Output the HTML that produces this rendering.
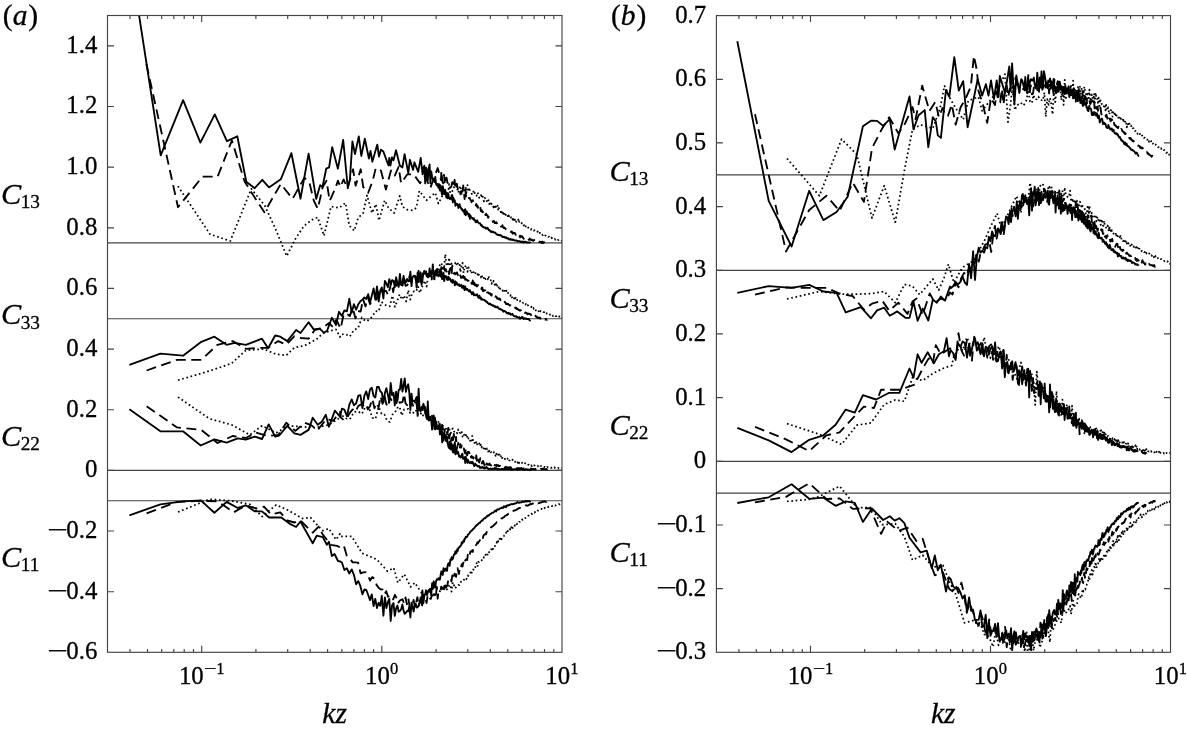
<!DOCTYPE html>
<html lang="en"><head><meta charset="utf-8"><title>Figure: C11, C22, C33, C13 versus kz</title>
<style>html,body{margin:0;padding:0;background:#fff;overflow:hidden;}svg{display:block;}text{font-family:'Liberation Serif', 'Times New Roman', Times, serif;fill:#000;stroke:#000;stroke-width:0.3px;stroke-linejoin:round;}.ax{stroke:#444444;stroke-width:1.15;fill:none;shape-rendering:auto;}.cv{stroke:#000;fill:none;stroke-linejoin:round;stroke-linecap:butt;}.tk{font-size:24.8px;}.sup{font-size:16.5px;}.lab{font-size:30.3px;font-style:italic;}.sub{font-size:19.3px;font-style:normal;}</style></head><body>
<svg width="1187" height="731" viewBox="0 0 1187 731">
<rect x="0" y="0" width="1187" height="731" fill="#fff"/>
<defs>
<clipPath id="clipa"><rect x="107.5" y="15.5" width="454.5" height="636.8"/></clipPath>
<clipPath id="clipb"><rect x="716.4" y="15.6" width="454.1" height="636.7"/></clipPath>
</defs>
<g clip-path="url(#clipa)">
<line class="ax" x1="107.5" y1="242.9" x2="562" y2="242.9"/>
<line class="ax" x1="107.5" y1="318.7" x2="562" y2="318.7"/>
<line class="ax" x1="107.5" y1="470.4" x2="562" y2="470.4"/>
<line class="ax" x1="107.5" y1="500.7" x2="562" y2="500.7"/>
<path class="cv" stroke-width="1.75" stroke-dasharray="1.65 2.7" d="M178 512 L209.4 499.2 L231.6 500.9 L249.9 504.3 L262 516.5 L276.2 504.9 L288.4 510.4 L302.5 518.5 L310.6 517.5 L317.7 525.6 L322.8 530.6 L328.9 528.6 L336 539.7 L340 533.7 L341 536.3 L351.6 536.3 L362.1 553.2 L376.9 559.5 L387.4 571.1 L393.7 567.9 L397.9 582.7 L404.2 574.2 L410.6 586.9 L414.8 582.7 L423.2 595.3 L429.5 589 L431.3 588.6 L432.8 589.3 L434.3 585.6 L435.8 590 L437.2 588.5 L438.6 590.6 L440 591.3 L441.4 586 L442.7 591 L444 589.3 L445.3 585.4 L446.6 589.5 L447.9 589 L449.1 585.6 L450.3 584.7 L451.5 591.7 L452.7 582.3 L453.8 584.5 L455 588.4 L456.1 586.9 L457.2 585.4 L458.3 584.8 L459.4 585.2 L460.4 583 L461.5 580.6 L462.5 581 L463.6 580 L464.6 579.4 L465.6 577.7 L466.5 579 L467.5 575.5 L468.5 575.9 L469.4 574.2 L470.4 572.4 L471.3 574.6 L472.2 570.1 L473.1 570.4 L474 568 L474.9 568.6 L475.8 565.5 L476.6 563.1 L477.5 566.7 L478.3 561.8 L479.2 562.1 L480 561.7 L480.8 560.1 L481.6 560.2 L482.4 560.8 L483.2 559 L484 557 L484.8 557.4 L485.5 554.7 L486.3 555.5 L487.1 556.5 L487.8 553.3 L488.6 554.1 L489.3 551.7 L490 552 L490.7 550.7 L491.5 549.3 L492.2 547.3 L492.9 549.1 L493.6 546.8 L494.3 545.8 L494.9 546.2 L495.6 544.2 L496.3 544.3 L496.9 541.9 L497.6 543.4 L498.3 540.8 L498.9 541.3 L499.6 538.8 L500.2 541 L500.8 537.1 L501.5 539.3 L502.1 537.1 L502.7 537 L503.3 536.3 L503.9 536.2 L504.5 534.7 L505.1 534.9 L505.7 534.5 L506.3 532.1 L506.9 533.3 L507.5 531.6 L508.1 530.6 L508.6 531.1 L509.2 530 L509.8 530.3 L510.3 528.6 L510.9 529.5 L511.4 527.1 L512 529.6 L512.5 528 L513.1 526.8 L513.6 527.5 L514.1 527.4 L514.7 525.8 L515.2 525.1 L515.7 525.5 L516.2 523.7 L516.8 524.2 L517.3 523.5 L517.8 523.7 L518.3 523.2 L518.8 523.4 L519.3 521.8 L519.8 521.9 L520.3 521.3 L520.8 521.2 L521.3 520.9 L521.7 521.1 L522.2 519.4 L522.7 519.9 L523.2 519.3 L523.7 519.3 L524.1 519.4 L524.6 518.6 L525.1 518 L525.5 518 L526 517.4 L526.4 516.8 L526.9 516.6 L527.3 516.5 L527.8 516.7 L528.2 515.9 L528.7 515.6 L529.1 515.3 L529.6 514.6 L530 514.7 L530.4 514.5 L530.9 514.2 L531.3 513.7 L531.7 513.6 L532.1 514.1 L532.6 513.7 L533 513.1 L533.4 512.5 L533.8 512.3 L534.2 512.4 L534.6 512.6 L535 511.8 L535.4 512 L535.8 511.6 L536.2 510.8 L536.6 511.2 L537 510.9 L537.4 510.5 L537.8 510.6 L538.2 510.6 L538.6 510.2 L539 510 L539.4 509.6 L539.8 509.7 L540.2 509.4 L540.5 509.3 L540.9 509.3 L541.3 509.1 L541.7 508.7 L542 508.1 L542.4 508.1 L542.8 508.6 L543.2 508.7 L543.5 508.9 L543.9 508.8 L544.3 508.6 L544.6 507.9 L545 507.6 L545.3 507.7 L545.7 507.4 L546 506.9 L546.4 507.1 L546.7 507.2 L547.1 507.1 L547.4 507 L547.8 507.2 L548.1 507 L548.5 506.6 L548.8 506.8 L549.2 506.6 L549.5 506.5 L549.8 506.6 L550.2 506.5 L550.5 506.4 L550.8 506.2 L551.2 506 L551.5 506 L551.8 506.2 L552.2 506 L552.5 505.6 L552.8 505.6 L553.1 506.1 L553.5 506.1 L553.8 505.7 L554.1 505.5 L554.4 505.5 L554.7 505.4 L555.1 505.6 L555.4 505.4 L555.7 505.3 L556 505.3 L556.3 505.1 L556.6 504.9 L556.9 504.7 L557.2 504.5 L557.5 504.4 L557.8 504.5 L558.2 504.7 L558.5 504.4 L558.8 504.1 L559.1 504.2 L559.4 504.3 L559.7 504.4 L560 504.1 L560.2 504.1 L560.5 504.2 L560.8 504.3 L561.1 504.7 L561.4 504.7 L561.7 504.5 L562 504.5 L562.3 504.5"/>
<path class="cv" stroke-width="1.75" stroke-dasharray="1.65 2.7" d="M178 186.2 L210 234.2 L230.3 241 L251.3 188.8 L264.8 205.6 L276 230 L286.7 256.1 L295.9 238 L304 226 L311.6 220 L317.7 217.4 L324 235.7 L331 206.6 L339.2 207.9 L345.5 202.9 L349.3 225.6 L354.3 230.7 L358.1 218 L363.2 213 L367 195.3 L372 213 L375.8 204.1 L379 220.5 L384.7 200.3 L388.5 207.9 L394.1 213 L399.8 195.9 L402.4 206.6 L407.4 209.8 L412.5 210.4 L416.3 207.9 L419.4 190.9 L426.4 200.3 L435.2 192.7 L438.4 203.5 L444.1 192.7 L445.3 193.3 L446.6 193.4 L447.9 196.3 L449.1 184 L450.3 194 L451.5 195.6 L452.7 189.7 L453.8 187.1 L455 188.2 L456.1 188.5 L457.2 188.8 L458.3 192.6 L459.4 188.7 L460.4 185.8 L461.5 192.3 L462.5 189.2 L463.6 189.4 L464.6 192 L465.6 186.9 L466.5 193 L467.5 185.2 L468.5 191.2 L469.4 189.4 L470.4 191 L471.3 192.6 L472.2 194.7 L473.1 192.4 L474 190.2 L474.9 193.8 L475.8 193.6 L476.6 195.8 L477.5 192.4 L478.3 194.3 L479.2 197.8 L480 196.3 L480.8 194.9 L481.6 196.2 L482.4 194.8 L483.2 199.3 L484 201.4 L484.8 197.9 L485.5 199.2 L486.3 198.8 L487.1 202.6 L487.8 202.2 L488.6 200.2 L489.3 204 L490 203.4 L490.7 205.3 L491.5 203.7 L492.2 203.4 L492.9 205.2 L493.6 207.4 L494.3 205.4 L494.9 208.6 L495.6 206.5 L496.3 207.9 L496.9 208.3 L497.6 205.6 L498.3 210.8 L498.9 208 L499.6 210.2 L500.2 210.2 L500.8 212.2 L501.5 210.3 L502.1 214.7 L502.7 210.9 L503.3 213.9 L503.9 212.1 L504.5 213.9 L505.1 212.6 L505.7 215 L506.3 214 L506.9 213.6 L507.5 214.4 L508.1 217.5 L508.6 215.4 L509.2 216.3 L509.8 215.4 L510.3 215.6 L510.9 217.7 L511.4 217.2 L512 217.2 L512.5 219.7 L513.1 217 L513.6 219.9 L514.1 218.2 L514.7 218.9 L515.2 220.8 L515.7 219.7 L516.2 221.8 L516.8 219.9 L517.3 220.7 L517.8 220.7 L518.3 219.6 L518.8 222.6 L519.3 221 L519.8 221.3 L520.3 222.9 L520.8 223.2 L521.3 223.2 L521.7 223.4 L522.2 222.9 L522.7 223 L523.2 224 L523.7 225.6 L524.1 225.1 L524.6 225.9 L525.1 224.7 L525.5 225.6 L526 226.7 L526.4 226.6 L526.9 226.9 L527.3 226.5 L527.8 226.2 L528.2 227.8 L528.7 227.7 L529.1 228.1 L529.6 227.9 L530 228.1 L530.4 228.3 L530.9 229.6 L531.3 229.1 L531.7 229 L532.1 229.2 L532.6 229.4 L533 229.4 L533.4 230.5 L533.8 230.8 L534.2 230.2 L534.6 230.5 L535 231.3 L535.4 231.2 L535.8 231 L536.2 231.4 L536.6 231.9 L537 231.8 L537.4 231.7 L537.8 231.5 L538.2 232.4 L538.6 233.5 L539 233.8 L539.4 233.1 L539.8 232.9 L540.2 233.4 L540.5 233.8 L540.9 233.4 L541.3 233.1 L541.7 233.4 L542 234.1 L542.4 234.9 L542.8 235 L543.2 234.9 L543.5 234.4 L543.9 234.9 L544.3 236 L544.6 236 L545 235.6 L545.3 235.6 L545.7 235.7 L546 235.7 L546.4 236.2 L546.7 236.4 L547.1 236 L547.4 236.1 L547.8 236.6 L548.1 236.8 L548.5 236.9 L548.8 236.7 L549.2 236.7 L549.5 237.1 L549.8 237.4 L550.2 237.6 L550.5 238.3 L550.8 238.2 L551.2 237.6 L551.5 237.8 L551.8 238.1 L552.2 238.3 L552.5 238.6 L552.8 238.5 L553.1 238.2 L553.5 238.7 L553.8 239 L554.1 239 L554.4 239.4 L554.7 239 L555.1 239.2 L555.4 239.8 L555.7 239.7 L556 239.9 L556.3 240.1 L556.6 240.3 L556.9 240.6 L557.2 240.5 L557.5 240 L557.8 239.8 L558.2 240.1 L558.5 240.4 L558.8 240.8 L559.1 240.8 L559.4 240.7 L559.7 240.6 L560 240.7 L560.2 240.8 L560.5 241 L560.8 241.3 L561.1 241.4 L561.4 241.2 L561.7 240.9 L562 240.9"/>
<path class="cv" stroke-width="1.75" stroke-dasharray="1.65 2.7" d="M178 397.1 L209.4 418.7 L231.6 424.8 L249.9 434.9 L262 425.8 L276.2 432.9 L288.4 425.8 L302.5 426.8 L314.7 427.8 L328.9 424.8 L340 417.7 L340.6 414.2 L345.4 418.4 L349.8 419.2 L354.1 412 L358.1 411.4 L361.9 413.9 L365.5 406.5 L369 407.8 L372.3 417.7 L375.5 418.9 L378.6 407 L381.6 413.9 L384.4 414.3 L387.1 420.9 L389.8 422 L392.4 414.6 L394.9 412.8 L397.3 407.9 L399.6 406.6 L401.9 415.5 L404.1 409.4 L406.2 409.5 L408.3 408.8 L410.3 413 L412.3 412 L414.2 413.4 L416.1 410.6 L418 414.7 L419.8 415.5 L421.5 412.6 L423.2 415.5 L424.9 413.8 L426.6 415.3 L428.2 421.9 L429.8 417.1 L431.3 416.9 L432.8 421.9 L434.3 422.8 L435.8 421.2 L437.2 429.5 L438.6 420.9 L440 424.8 L441.4 426.4 L442.7 425.8 L444 426.7 L445.3 431.1 L446.6 427.3 L447.9 428.8 L449.1 426.8 L450.3 435.5 L451.5 430.6 L452.7 428.3 L453.8 431.5 L455 432.1 L456.1 431.1 L457.2 433.5 L458.3 429.4 L459.4 432.5 L460.4 433 L461.5 430.9 L462.5 436.6 L463.6 433.8 L464.6 436 L465.6 434.1 L466.5 438 L467.5 435.5 L468.5 438.6 L469.4 437.9 L470.4 441.9 L471.3 442.5 L472.2 435.9 L473.1 440.9 L474 440.5 L474.9 444.6 L475.8 443.5 L476.6 441.2 L477.5 445.5 L478.3 445.2 L479.2 443.4 L480 446.5 L480.8 444.6 L481.6 447.5 L482.4 445.6 L483.2 447.4 L484 449 L484.8 447.3 L485.5 449.9 L486.3 450.9 L487.1 448.3 L487.8 448.6 L488.6 453.3 L489.3 450.5 L490 449.7 L490.7 452.3 L491.5 452.2 L492.2 452.9 L492.9 451.9 L493.6 451.7 L494.3 454.4 L494.9 453.9 L495.6 455.8 L496.3 452.9 L496.9 455.5 L497.6 455.8 L498.3 454.5 L498.9 456.8 L499.6 454.6 L500.2 457.5 L500.8 456.5 L501.5 455.2 L502.1 458 L502.7 457.9 L503.3 457.9 L503.9 457 L504.5 457.1 L505.1 459.4 L505.7 458.8 L506.3 459.1 L506.9 458.1 L507.5 458.5 L508.1 460.1 L508.6 459 L509.2 460.3 L509.8 460.4 L510.3 459.8 L510.9 460 L511.4 460.6 L512 460.4 L512.5 459.6 L513.1 461.3 L513.6 461.3 L514.1 460.7 L514.7 461.4 L515.2 461.9 L515.7 461.4 L516.2 461.3 L516.8 462.1 L517.3 461.3 L517.8 462.8 L518.3 461.1 L518.8 462 L519.3 463.2 L519.8 463.6 L520.3 462.3 L520.8 462.4 L521.3 462.9 L521.7 462.9 L522.2 462.7 L522.7 463.1 L523.2 463.2 L523.7 463.4 L524.1 464 L524.6 464.3 L525.1 463.2 L525.5 463.7 L526 464.3 L526.4 463.8 L526.9 464.1 L527.3 464.1 L527.8 464.3 L528.2 464.8 L528.7 464.8 L529.1 465.1 L529.6 464.8 L530 465.6 L530.4 465.9 L530.9 465.5 L531.3 465.3 L531.7 466 L532.1 466.1 L532.6 465 L533 465.2 L533.4 465.6 L533.8 465.9 L534.2 465.4 L534.6 465.6 L535 466.1 L535.4 465.9 L535.8 465.7 L536.2 465.8 L536.6 465.9 L537 466 L537.4 465.9 L537.8 465.7 L538.2 466.6 L538.6 466.8 L539 466.2 L539.4 466.5 L539.8 466.8 L540.2 467.1 L540.5 466.3 L540.9 466.2 L541.3 466.2 L541.7 467 L542 467 L542.4 466.8 L542.8 467 L543.2 466.8 L543.5 466.7 L543.9 466.8 L544.3 466.8 L544.6 466.9 L545 467.3 L545.3 467.4 L545.7 466.9 L546 466.9 L546.4 467.6 L546.7 467.7 L547.1 467.1 L547.4 467 L547.8 467.4 L548.1 467.7 L548.5 467.6 L548.8 467.4 L549.2 467.3 L549.5 467.3 L549.8 467.4 L550.2 467.4 L550.5 467.3 L550.8 467.6 L551.2 467.7 L551.5 467.9 L551.8 467.7 L552.2 467.6 L552.5 467.5 L552.8 467.3 L553.1 467.6 L553.5 467.8 L553.8 468 L554.1 467.8 L554.4 467.3 L554.7 467.6 L555.1 468.2 L555.4 468.3 L555.7 468.1 L556 468 L556.3 467.7 L556.6 467.8 L556.9 468 L557.2 468.1 L557.5 468.1 L557.8 467.9 L558.2 467.9 L558.5 468.3 L558.8 468.5 L559.1 468.4 L559.4 468.5 L559.7 468.6 L560 468.4 L560.2 468.2 L560.5 468.2 L560.8 468.4 L561.1 468.5 L561.4 468.4 L561.7 468.3 L562 468.5 L562.3 468.6"/>
<path class="cv" stroke-width="1.75" stroke-dasharray="1.65 2.7" d="M178 380.2 L209.4 371 L231.6 363.4 L245.8 350.3 L263.6 349 L276.2 354.3 L286.3 355.3 L294.4 347.6 L304.6 345.6 L311.6 342 L316.7 339.1 L322.8 333.4 L330 331 L336 329.4 L340 337 L340.6 334.7 L345.4 334 L349.8 336.5 L354.1 329.8 L358.1 328.2 L361.9 317.5 L365.5 321.3 L369 320 L372.3 316.5 L375.5 311.2 L378.6 311.5 L381.6 301.9 L384.4 304.5 L387.1 305.8 L389.8 306.3 L392.4 295.7 L394.9 306.9 L397.3 300.8 L399.6 294.4 L401.9 299.6 L404.1 295.4 L406.2 301.4 L408.3 290.1 L410.3 299.6 L412.3 292.9 L414.2 291.2 L416.1 291.5 L418 286.5 L419.8 293 L421.5 288.2 L423.2 284.1 L424.9 280.7 L426.6 286.6 L428.2 275.1 L429.8 276.1 L431.3 276.4 L432.8 269.5 L434.3 281 L435.8 269.4 L437.2 268 L438.6 271.4 L440 264 L441.4 263 L442.7 267.6 L444 269.2 L445.3 254.3 L446.6 265.8 L447.9 265.3 L449.1 257.7 L450.3 270.5 L451.5 263.7 L452.7 263.3 L453.8 262.4 L455 262.7 L456.1 265.7 L457.2 261.8 L458.3 264.8 L459.4 263.6 L460.4 272.2 L461.5 265 L462.5 262.9 L463.6 272.9 L464.6 266 L465.6 266.4 L466.5 265.4 L467.5 271.8 L468.5 267.3 L469.4 270.9 L470.4 270.7 L471.3 273.7 L472.2 270.4 L473.1 272 L474 272.5 L474.9 274.5 L475.8 272.2 L476.6 272.8 L477.5 274.6 L478.3 272.4 L479.2 276.1 L480 276.5 L480.8 277.5 L481.6 274.5 L482.4 277.8 L483.2 276.5 L484 278.2 L484.8 276.8 L485.5 279 L486.3 278.3 L487.1 277.8 L487.8 279.4 L488.6 275.9 L489.3 279.7 L490 280.1 L490.7 280.1 L491.5 283.9 L492.2 282.1 L492.9 283.2 L493.6 280.8 L494.3 283.1 L494.9 286.8 L495.6 282.4 L496.3 286.5 L496.9 285.2 L497.6 286.4 L498.3 285.3 L498.9 288.5 L499.6 287.1 L500.2 288.8 L500.8 288.3 L501.5 288 L502.1 288.6 L502.7 290.8 L503.3 289.2 L503.9 290.9 L504.5 290.9 L505.1 290.9 L505.7 292.2 L506.3 290.6 L506.9 293.8 L507.5 293.8 L508.1 292.9 L508.6 293.6 L509.2 294.5 L509.8 295.2 L510.3 295.8 L510.9 294.3 L511.4 295.9 L512 297.5 L512.5 297 L513.1 296.3 L513.6 296.6 L514.1 298.5 L514.7 296.4 L515.2 298.5 L515.7 297.8 L516.2 299.6 L516.8 299 L517.3 300.1 L517.8 299.9 L518.3 300.2 L518.8 299.7 L519.3 299.5 L519.8 300.3 L520.3 301.7 L520.8 301.8 L521.3 302.4 L521.7 302.3 L522.2 301.7 L522.7 302.4 L523.2 302.9 L523.7 302.5 L524.1 303.6 L524.6 304.5 L525.1 304.5 L525.5 304.5 L526 303.9 L526.4 304.3 L526.9 304.5 L527.3 305.8 L527.8 305.1 L528.2 305.8 L528.7 306.8 L529.1 306.8 L529.6 306.8 L530 306.7 L530.4 307.1 L530.9 307.1 L531.3 307.1 L531.7 306.6 L532.1 307.8 L532.6 307.7 L533 308.6 L533.4 308.8 L533.8 307.9 L534.2 307.9 L534.6 308.2 L535 307.9 L535.4 309.5 L535.8 310.4 L536.2 309.8 L536.6 309.6 L537 309.7 L537.4 310.4 L537.8 310.4 L538.2 310.7 L538.6 311.4 L539 310.2 L539.4 309.4 L539.8 309.6 L540.2 311 L540.5 311.3 L540.9 311.1 L541.3 311.4 L541.7 311.3 L542 310.9 L542.4 311.4 L542.8 311.4 L543.2 311.9 L543.5 312 L543.9 311.9 L544.3 312.1 L544.6 312 L545 311.4 L545.3 312.1 L545.7 312.5 L546 312.6 L546.4 313.5 L546.7 313.5 L547.1 312.9 L547.4 312.9 L547.8 312.7 L548.1 313.2 L548.5 313.5 L548.8 313.6 L549.2 314 L549.5 314.3 L549.8 314.7 L550.2 314.7 L550.5 314.4 L550.8 314.7 L551.2 314.9 L551.5 314.4 L551.8 314.4 L552.2 314.7 L552.5 315.1 L552.8 315.8 L553.1 315.8 L553.5 315.4 L553.8 315.1 L554.1 315.4 L554.4 315.4 L554.7 315.2 L555.1 315.3 L555.4 316 L555.7 316 L556 316 L556.3 316.2 L556.6 316 L556.9 315.7 L557.2 316.1 L557.5 316.4 L557.8 316.1 L558.2 316 L558.5 316.5 L558.8 316.7 L559.1 316.4 L559.4 316.6 L559.7 317 L560 317.2 L560.2 317.4 L560.5 317.7 L560.8 317.6 L561.1 317 L561.4 316.7 L561.7 316.7 L562 317.1 L562.3 317.7"/>
<path class="cv" stroke-width="1.85" stroke-dasharray="10 5.5" d="M146.6 513.4 L177 501.9 L201.3 500.9 L216.5 501.3 L223.5 505.3 L233.7 512.4 L245.8 505.3 L256 508.4 L264 506.7 L271.1 514.4 L280.3 512.4 L287.3 520.5 L294.4 522.5 L300.5 520.5 L312.7 532.7 L318.7 526.6 L322.8 534.7 L330.9 544.8 L337 545.8 L340.6 547.6 L343.8 545.6 L346.9 556 L349.8 558.4 L352.7 562.4 L355.4 562.4 L358.1 562.7 L360.6 573.4 L363.1 572.3 L365.5 572.1 L367.9 574.9 L370.1 580.6 L372.3 577.1 L374.5 578.7 L376.6 584.9 L378.6 587.7 L380.6 589.4 L382.5 589.5 L384.4 594.3 L386.2 591.1 L388 596.7 L389.8 595.8 L391.5 595.5 L393.2 599.5 L394.9 594.8 L396.5 597.9 L398 603.4 L399.6 600.7 L401.1 599.9 L402.6 599.3 L404.1 603.6 L405.5 597.5 L406.9 604.3 L408.3 598.1 L409.7 607.3 L411 603.9 L412.3 604.4 L413.6 599.9 L414.9 607.3 L416.1 602.6 L417.4 597.1 L418.6 606.7 L419.8 602.3 L420.9 595.9 L422.1 605.5 L423.2 600.4 L424.4 599.1 L425.5 597.9 L426.6 603 L427.7 594.7 L428.7 595.5 L429.8 598.4 L430.8 598.8 L431.8 595.7 L432.8 595.3 L433.8 594.2 L434.8 594.3 L435.8 598 L436.7 586.6 L437.7 598.7 L438.6 590.3 L439.6 590.6 L440.5 590.5 L441.4 586.7 L442.3 587.9 L443.2 588.1 L444 588.3 L444.9 582.7 L445.8 587.9 L446.6 586.6 L447.4 585.3 L448.3 579.8 L449.1 581.9 L449.9 581.8 L450.7 580.3 L451.5 581.5 L452.3 575.3 L453.1 579.7 L453.8 576.9 L454.6 573.7 L455.3 574.5 L456.1 576.9 L456.8 571.4 L457.6 568.1 L458.3 571.7 L459 573.9 L459.7 567.9 L460.4 569 L461.1 566.4 L461.8 564.2 L462.5 566.5 L463.2 563 L463.9 561.6 L464.6 564 L465.2 560.5 L465.9 559.4 L466.5 559.7 L467.2 560.1 L467.8 554.8 L468.5 557.7 L469.1 555.2 L469.7 554.5 L470.4 551.4 L471 551.5 L471.6 551.7 L472.2 550.3 L472.8 551.8 L473.4 548.4 L474 547.8 L474.6 546 L475.2 546.6 L475.8 545.3 L476.3 545 L476.9 543.5 L477.5 542.1 L478 543.3 L478.6 542 L479.2 541.3 L479.7 540.6 L480.3 539.1 L480.8 540.6 L481.3 539.4 L481.9 538.1 L482.4 537.6 L482.9 538 L483.5 535.5 L484 534.8 L484.5 534.8 L485 534.3 L485.5 533.6 L486.1 534.2 L486.6 532.2 L487.1 531.8 L487.6 531.6 L488.1 531.3 L488.6 529.8 L489 529.6 L489.5 529.8 L490 528.7 L490.5 528.5 L491 527.5 L491.5 526.6 L491.9 526.8 L492.4 526.3 L492.9 526.3 L493.3 525.6 L493.8 525.1 L494.3 524.5 L494.7 524.7 L495.2 523.6 L495.6 523.7 L496.1 523 L496.5 522.5 L496.9 522 L497.4 522.1 L497.8 521.7 L498.3 520.7 L498.7 520.3 L499.1 520.4 L499.6 520.2 L500 519.5 L500.4 519.3 L500.8 519.3 L501.2 518.7 L501.7 518.5 L502.1 518.4 L502.5 518 L502.9 517.6 L503.3 517.5 L503.7 517.3 L504.1 517.2 L504.5 516.5 L504.9 515.9 L505.3 515.8 L505.7 515.7 L506.1 515.4 L506.5 515 L506.9 515.1 L507.3 514.8 L507.7 514.2 L508.1 514.2 L508.4 513.8 L508.8 514 L509.2 513.4 L509.6 512.8 L510 512.6 L510.3 512.2 L510.7 512 L511.1 511.8 L511.4 511.8 L511.8 512 L512.2 512.1 L512.5 511.7 L512.9 511.4 L513.2 511 L513.6 510.6 L514 510.6 L514.3 510.6 L514.7 510.4 L515 510.2 L515.4 510.4 L515.7 510.3 L516.1 510 L516.4 509.6 L516.8 509.6 L517.1 509.3 L517.4 508.8 L517.8 508.9 L518.1 508.9 L518.5 508.4 L518.8 508.2 L519.1 507.9 L519.5 507.9 L519.8 508.3 L520.1 508 L520.4 507.9 L520.8 508 L521.1 508 L521.4 507.5 L521.7 507.3 L522.1 507.5 L522.4 507.5 L522.7 507.4 L523 507.2 L523.3 506.8 L523.7 506.4 L524 506.2 L524.3 506.1 L524.6 506.2 L524.9 506 L525.2 505.7 L525.5 505.5 L525.8 505.4 L526.1 505.3 L526.4 505.5 L526.7 505.6 L527 505.7 L527.3 505.8 L527.6 505.6 L527.9 505.6 L528.2 505.2 L528.5 504.8 L528.8 504.9 L529.1 505 L529.4 504.7 L529.7 504.5 L530 504.4 L530.3 504.1 L530.6 504 L530.9 504.2 L531.1 504.2 L531.4 504.2 L531.7 504.1 L532 503.8 L532.3 503.6 L532.6 503.4 L532.8 503.4 L533.1 503.6 L533.4 503.8 L533.7 504 L533.9 504.2 L534.2 504 L534.5 503.7 L534.8 503.6 L535 503.6 L535.3 503.7 L535.6 503.8 L535.8 503.4 L536.1 502.9 L536.4 502.8 L536.6 502.9 L536.9 502.8 L537.2 502.7 L537.4 502.8 L537.7 503 L538 503.3 L538.2 503.3 L538.5 503.1 L538.8 503.1 L539 503.1 L539.3 503.1 L539.5 503 L539.8 502.7 L540 502.5 L540.3 502.6 L540.5 502.6 L540.8 502.5 L541 502.5 L541.3 502.4 L541.5 502.3 L541.8 502.4 L542 502.2 L542.3 501.7 L542.5 501.4 L542.8 501.4 L543 501.7 L543.3 501.8 L543.5 501.7 L543.8 501.6 L544 501.5 L544.3 501.4 L544.5 501.4 L544.7 501.5 L545 501.5 L545.2 501.6 L545.4 501.7 L545.7 501.7 L545.9 501.8 L546.2 501.9 L546.4 501.8 L546.6 501.5 L546.9 501.3 L547.1 501.2 L547.3 501.1"/>
<path class="cv" stroke-width="1.85" stroke-dasharray="10 5.5" d="M146.4 64 L178 207.2 L202.5 176.6 L217.6 176.6 L231.9 140.5 L244.6 181.5 L254.4 197 L264.4 212.3 L272 199 L280.8 184 L292.6 198.8 L304.4 177.7 L309.5 183.2 L313.9 200.9 L317.8 208.7 L322.7 187 L326.5 180.7 L329.7 200.9 L335.4 188.2 L337.9 180.7 L340.4 187 L343.6 179.4 L347.4 188.2 L353.1 169.3 L355.6 185.7 L360.7 169.3 L363.2 187 L368.2 192.7 L372.7 180.7 L375.8 168 L380.9 170.5 L385.9 189.5 L391 170.5 L394.8 175.6 L398.6 166.8 L401.1 183.2 L407.4 174.3 L413.7 174.3 L420 183.2 L425 176 L430.2 188.2 L434 178 L437.7 168 L441 180 L441.4 170.8 L442.3 181.4 L443.2 183.3 L444 174.8 L444.9 184.7 L445.8 178.1 L446.6 177.7 L447.4 182.9 L448.3 181.8 L449.1 182.2 L449.9 184.6 L450.7 187.6 L451.5 185.9 L452.3 182.1 L453.1 182.8 L453.8 186.8 L454.6 179.8 L455.3 187 L456.1 189.5 L456.8 183.6 L457.6 187.4 L458.3 190 L459 189.7 L459.7 188.5 L460.4 194.3 L461.1 191.1 L461.8 196.1 L462.5 192.2 L463.2 185.4 L463.9 192.6 L464.6 199.1 L465.2 188.6 L465.9 196.5 L466.5 193.7 L467.2 196.2 L467.8 197.8 L468.5 197.8 L469.1 198.2 L469.7 197.9 L470.4 199.9 L471 200.4 L471.6 202.2 L472.2 200.7 L472.8 200.3 L473.4 200.8 L474 200.2 L474.6 204.7 L475.2 204.7 L475.8 205.6 L476.3 203.9 L476.9 206.6 L477.5 205.6 L478 207.7 L478.6 208.8 L479.2 206.7 L479.7 207.9 L480.3 206.7 L480.8 211.2 L481.3 210.4 L481.9 210.2 L482.4 212.3 L482.9 211.7 L483.5 213.1 L484 213.3 L484.5 211.5 L485 214.5 L485.5 215.1 L486.1 213.7 L486.6 215.4 L487.1 214.9 L487.6 215.5 L488.1 217.9 L488.6 216.9 L489 218 L489.5 218.2 L490 218.9 L490.5 218.7 L491 219.7 L491.5 220.1 L491.9 219.8 L492.4 220.3 L492.9 222 L493.3 221.5 L493.8 220.9 L494.3 221.5 L494.7 223 L495.2 223.1 L495.6 222.5 L496.1 223 L496.5 222.3 L496.9 223.4 L497.4 223.9 L497.8 224.7 L498.3 224.4 L498.7 225.5 L499.1 225.9 L499.6 225.5 L500 225.4 L500.4 225.2 L500.8 226.6 L501.2 226.7 L501.7 226.6 L502.1 225.8 L502.5 225.2 L502.9 226.6 L503.3 227.6 L503.7 227.9 L504.1 228 L504.5 227.6 L504.9 228.1 L505.3 228.4 L505.7 229.2 L506.1 229.1 L506.5 229.2 L506.9 229.5 L507.3 229.6 L507.7 229.5 L508.1 229.6 L508.4 230.4 L508.8 231.2 L509.2 230.8 L509.6 230.8 L510 231.3 L510.3 231.5 L510.7 231.9 L511.1 231.6 L511.4 231.5 L511.8 231.5 L512.2 232.4 L512.5 233.7 L512.9 233.2 L513.2 232.8 L513.6 233.2 L514 233.4 L514.3 233.1 L514.7 232.9 L515 233.3 L515.4 234 L515.7 234.8 L516.1 234.3 L516.4 234 L516.8 234.2 L517.1 234.9 L517.4 235.1 L517.8 234.8 L518.1 235 L518.5 235.9 L518.8 235.8 L519.1 234.9 L519.5 235.3 L519.8 236.7 L520.1 237.4 L520.4 236.7 L520.8 235.9 L521.1 236.3 L521.4 236.8 L521.7 236.8 L522.1 236.2 L522.4 236.6 L522.7 237.4 L523 237.7 L523.3 238.2 L523.7 238.8 L524 238.6 L524.3 237.9 L524.6 237.6 L524.9 237.6 L525.2 238.1 L525.5 238.3 L525.8 238.1 L526.1 237.8 L526.4 237.9 L526.7 238.2 L527 238.1 L527.3 237.9 L527.6 238.2 L527.9 238.5 L528.2 238.8 L528.5 239.2 L528.8 239.7 L529.1 239.9 L529.4 239 L529.7 238.6 L530 239.1 L530.3 239.4 L530.6 239.3 L530.9 239.6 L531.1 240.3 L531.4 240.1 L531.7 239.7 L532 239.8 L532.3 240 L532.6 240.4 L532.8 240.6 L533.1 240.7 L533.4 240.7 L533.7 240.4 L533.9 240.2 L534.2 240 L534.5 239.9 L534.8 240.1 L535 240 L535.3 239.8 L535.6 240.1 L535.8 240.7 L536.1 241.1 L536.4 241.3 L536.6 241.5 L536.9 241.7 L537.2 241.6 L537.4 241.3 L537.7 241.3 L538 241.2 L538.2 241.2 L538.5 241.5 L538.8 241.9 L539 242.1 L539.3 241.9 L539.5 241.6 L539.8 241.8 L540 242.1 L540.3 242.3 L540.5 242.3 L540.8 242.1 L541 241.6 L541.3 242 L541.5 242.8 L541.8 243 L542 242.5 L542.3 241.9 L542.5 241.6 L542.8 241.9 L543 242.5 L543.3 243 L543.5 242.9 L543.8 242.5 L544 242.2 L544.3 242.2 L544.5 242.5 L544.7 242.5 L545 242.1 L545.2 242.1 L545.4 242.6 L545.7 243.2 L545.9 243.1 L546.2 242.8 L546.4 242.9 L546.6 243.2 L546.9 243.1 L547.1 242.9 L547.3 242.8"/>
<path class="cv" stroke-width="1.85" stroke-dasharray="10 5.5" d="M146.6 406.2 L177 427.4 L201.3 429.9 L217.5 443 L232.7 436 L245.8 438 L256 432.5 L268.1 436 L278.2 434.9 L286.3 422.8 L295.4 430.9 L304.6 422.8 L310.6 424.8 L317.7 429.9 L326.8 418.7 L333 421 L340 412 L340.6 417.4 L343.8 420.1 L346.9 418.1 L349.8 412.8 L352.7 409.4 L355.4 411.9 L358.1 406.3 L360.6 404.6 L363.1 405.2 L365.5 403.7 L367.9 409.3 L370.1 405.9 L372.3 399 L374.5 408.2 L376.6 402.9 L378.6 407.4 L380.6 396.3 L382.5 403.9 L384.4 395.4 L386.2 403.8 L388 407.1 L389.8 397.5 L391.5 400.1 L393.2 401.8 L394.9 401.5 L396.5 403.2 L398 394.8 L399.6 402.9 L401.1 402.3 L402.6 401.9 L404.1 394 L405.5 403.2 L406.9 405 L408.3 405.7 L409.7 401.4 L411 405.4 L412.3 403 L413.6 407.5 L414.9 403 L416.1 401.9 L417.4 408.9 L418.6 405 L419.8 409.3 L420.9 407.6 L422.1 406.6 L423.2 412.6 L424.4 406.7 L425.5 415.6 L426.6 413.2 L427.7 412 L428.7 419.3 L429.8 418 L430.8 415.4 L431.8 413.5 L432.8 424.8 L433.8 418.8 L434.8 417.5 L435.8 424 L436.7 424.7 L437.7 426.1 L438.6 422.8 L439.6 424 L440.5 432.3 L441.4 433.8 L442.3 425 L443.2 430.9 L444 437.7 L444.9 429 L445.8 439.7 L446.6 430.6 L447.4 434.4 L448.3 428.2 L449.1 438.5 L449.9 434.2 L450.7 442 L451.5 437.9 L452.3 437.3 L453.1 443.4 L453.8 434 L454.6 440.6 L455.3 450.2 L456.1 436.9 L456.8 449 L457.6 445.2 L458.3 442.8 L459 446.8 L459.7 449.3 L460.4 444.1 L461.1 447.6 L461.8 445.7 L462.5 449.8 L463.2 448.8 L463.9 448.4 L464.6 452.1 L465.2 453.5 L465.9 448.1 L466.5 453 L467.2 455.4 L467.8 451.9 L468.5 451.8 L469.1 452.3 L469.7 454.3 L470.4 452.6 L471 457.5 L471.6 456 L472.2 457.7 L472.8 456.7 L473.4 458.5 L474 456.7 L474.6 455.8 L475.2 457.3 L475.8 459.7 L476.3 455.4 L476.9 460.9 L477.5 459.7 L478 462.8 L478.6 459.7 L479.2 462.5 L479.7 460.8 L480.3 458.1 L480.8 461.1 L481.3 460.3 L481.9 463.6 L482.4 461.8 L482.9 460.9 L483.5 462 L484 463.7 L484.5 465.5 L485 461.2 L485.5 462.8 L486.1 463.6 L486.6 463.4 L487.1 464.8 L487.6 464.1 L488.1 464.1 L488.6 464.5 L489 465 L489.5 463.5 L490 464.6 L490.5 464.9 L491 465.5 L491.5 463.9 L491.9 464.8 L492.4 466.1 L492.9 465.1 L493.3 465 L493.8 464.8 L494.3 465.2 L494.7 465 L495.2 465.1 L495.6 465.1 L496.1 465.9 L496.5 466.4 L496.9 464.8 L497.4 465.3 L497.8 465.7 L498.3 465.2 L498.7 466 L499.1 465.9 L499.6 466.1 L500 465.7 L500.4 466.4 L500.8 466.8 L501.2 466.3 L501.7 465.6 L502.1 466.5 L502.5 466.8 L502.9 466.7 L503.3 467 L503.7 466.9 L504.1 467 L504.5 467.3 L504.9 467.3 L505.3 467.4 L505.7 466.8 L506.1 466.9 L506.5 467.6 L506.9 467.9 L507.3 467.6 L507.7 467.1 L508.1 467.4 L508.4 467.7 L508.8 467.7 L509.2 467.3 L509.6 467.2 L510 467.6 L510.3 467.4 L510.7 467.2 L511.1 467.8 L511.4 468.3 L511.8 468 L512.2 467.9 L512.5 468 L512.9 467.9 L513.2 467.9 L513.6 467.6 L514 467.3 L514.3 467.5 L514.7 467.8 L515 467.6 L515.4 467.3 L515.7 467.4 L516.1 467.8 L516.4 468 L516.8 468.4 L517.1 468.5 L517.4 468.2 L517.8 468 L518.1 468.2 L518.5 468.4 L518.8 468.5 L519.1 468.4 L519.5 468.2 L519.8 468.2 L520.1 468.5 L520.4 468.7 L520.8 468.4 L521.1 467.9 L521.4 468 L521.7 468.3 L522.1 468.5 L522.4 468.9 L522.7 469.1 L523 469.2 L523.3 468.7 L523.7 468.4 L524 468.4 L524.3 468.6 L524.6 468.7 L524.9 468.6 L525.2 468.5 L525.5 468.6 L525.8 468.9 L526.1 468.8 L526.4 468.6 L526.7 468.6 L527 468.6 L527.3 468.6 L527.6 468.5 L527.9 468.6 L528.2 468.6 L528.5 468.5 L528.8 468.6 L529.1 469 L529.4 469.3 L529.7 469.6 L530 469.7 L530.3 469.4 L530.6 468.8 L530.9 468.4 L531.1 469 L531.4 469.6 L531.7 469.5 L532 469.1 L532.3 469 L532.6 468.9 L532.8 468.9 L533.1 469.1 L533.4 469.1 L533.7 469 L533.9 469 L534.2 469.2 L534.5 469.4 L534.8 469.7 L535 469.7 L535.3 469.1 L535.6 468.7 L535.8 468.9 L536.1 469 L536.4 468.7 L536.6 468.6 L536.9 469 L537.2 469.4 L537.4 469.4 L537.7 469.2 L538 469.1 L538.2 469.1 L538.5 469.4 L538.8 469.5 L539 469.4 L539.3 469.3 L539.5 469.1 L539.8 469.2 L540 469.5 L540.3 469.6 L540.5 469.3 L540.8 468.9 L541 468.8 L541.3 468.8 L541.5 469 L541.8 469.4 L542 469.6 L542.3 469.3 L542.5 468.9 L542.8 468.6 L543 468.5 L543.3 468.8 L543.5 469.1 L543.8 469.3 L544 469.3 L544.3 469.2 L544.5 469.2 L544.7 469.2 L545 469.2 L545.2 469.3 L545.4 469.2 L545.7 469.1 L545.9 468.9 L546.2 468.9 L546.4 469 L546.6 469.3 L546.9 469.6 L547.1 469.6 L547.3 469.3"/>
<path class="cv" stroke-width="1.85" stroke-dasharray="10 5.5" d="M146.6 370.5 L177 359.8 L201.3 359.8 L217.5 344.8 L232.7 341.1 L245.8 348.8 L256 348 L268.1 347.8 L278.2 341.1 L286.3 344.8 L294.4 336.1 L301 338 L308.6 338.7 L314.7 330 L322.8 328 L329 323 L332.9 327 L336 320 L337.3 321.6 L340.6 328.6 L343.8 313.8 L346.9 314 L349.8 316.1 L352.7 307.6 L355.4 318.4 L358.1 311 L360.6 311.6 L363.1 299.3 L365.5 306.4 L367.9 297.5 L370.1 304.2 L372.3 299.8 L374.5 299.4 L376.6 299.5 L378.6 290 L380.6 292.6 L382.5 289.9 L384.4 291.2 L386.2 291 L388 295.2 L389.8 288.4 L391.5 281.7 L393.2 292.2 L394.9 281.5 L396.5 285.8 L398 283.4 L399.6 284.1 L401.1 280.3 L402.6 285.5 L404.1 276.3 L405.5 285.8 L406.9 285.3 L408.3 283.6 L409.7 275.5 L411 281.8 L412.3 280 L413.6 279.3 L414.9 275.7 L416.1 280.8 L417.4 279.4 L418.6 270.8 L419.8 283.4 L420.9 279.9 L422.1 274.6 L423.2 272.7 L424.4 271.4 L425.5 270.9 L426.6 275.9 L427.7 273.9 L428.7 275.8 L429.8 272.4 L430.8 270.4 L431.8 279.5 L432.8 264.4 L433.8 274.2 L434.8 272.6 L435.8 274.1 L436.7 275.5 L437.7 269.2 L438.6 272.3 L439.6 270.9 L440.5 271.2 L441.4 267.1 L442.3 267.9 L443.2 271.9 L444 267.5 L444.9 270.7 L445.8 269 L446.6 272.7 L447.4 269.3 L448.3 270.5 L449.1 274 L449.9 269.1 L450.7 274.7 L451.5 274.3 L452.3 265.6 L453.1 272.6 L453.8 273.6 L454.6 272.7 L455.3 274.3 L456.1 273.5 L456.8 272.4 L457.6 273.9 L458.3 276.5 L459 274.4 L459.7 276.6 L460.4 275.4 L461.1 277.9 L461.8 277.3 L462.5 277.6 L463.2 275.9 L463.9 281.3 L464.6 277 L465.2 279.8 L465.9 278.9 L466.5 279.8 L467.2 280 L467.8 280.9 L468.5 280.7 L469.1 282.8 L469.7 283.2 L470.4 282.7 L471 281.2 L471.6 283.9 L472.2 283 L472.8 280.5 L473.4 285.2 L474 280.9 L474.6 285.1 L475.2 285.5 L475.8 284.5 L476.3 285 L476.9 286.5 L477.5 285.8 L478 285 L478.6 287.3 L479.2 287.5 L479.7 287.7 L480.3 289 L480.8 288.5 L481.3 289.2 L481.9 287.5 L482.4 287.8 L482.9 291 L483.5 291.2 L484 290.2 L484.5 290.1 L485 290.1 L485.5 291 L486.1 292 L486.6 289.6 L487.1 292.6 L487.6 292.3 L488.1 292.4 L488.6 292.9 L489 293.5 L489.5 293.8 L490 293.2 L490.5 293.5 L491 295.2 L491.5 295.6 L491.9 294.2 L492.4 295.6 L492.9 296.1 L493.3 295.6 L493.8 296.2 L494.3 296.7 L494.7 295.9 L495.2 296.8 L495.6 296.3 L496.1 296.7 L496.5 296.9 L496.9 298 L497.4 298.9 L497.8 298.3 L498.3 298.4 L498.7 298.9 L499.1 299.3 L499.6 298.6 L500 299 L500.4 299.9 L500.8 300.5 L501.2 300.8 L501.7 301.1 L502.1 300.5 L502.5 300.6 L502.9 302.1 L503.3 302 L503.7 301.3 L504.1 300.9 L504.5 301.3 L504.9 302.4 L505.3 302.4 L505.7 303 L506.1 304.1 L506.5 303.9 L506.9 303.7 L507.3 304.1 L507.7 303.9 L508.1 303.8 L508.4 304.6 L508.8 304.6 L509.2 304.9 L509.6 305.5 L510 305.6 L510.3 305.4 L510.7 305.3 L511.1 305.9 L511.4 306.2 L511.8 306.7 L512.2 307.1 L512.5 307.1 L512.9 307 L513.2 306.8 L513.6 306.6 L514 307 L514.3 307.5 L514.7 306.9 L515 307.5 L515.4 308.2 L515.7 308 L516.1 307.7 L516.4 308.4 L516.8 309 L517.1 308.9 L517.4 308.6 L517.8 308.9 L518.1 309.6 L518.5 309.9 L518.8 310 L519.1 309.9 L519.5 310.4 L519.8 310.7 L520.1 310.8 L520.4 310.4 L520.8 310.2 L521.1 310.6 L521.4 311.2 L521.7 311.3 L522.1 311 L522.4 311.3 L522.7 311.8 L523 312 L523.3 311.9 L523.7 311.6 L524 311.4 L524.3 312.3 L524.6 313.1 L524.9 313 L525.2 312.6 L525.5 312.4 L525.8 312.6 L526.1 312.8 L526.4 312.8 L526.7 313 L527 313.8 L527.3 314.2 L527.6 314.2 L527.9 313.8 L528.2 313.5 L528.5 313.7 L528.8 313.9 L529.1 314 L529.4 313.8 L529.7 313.9 L530 314.3 L530.3 314.4 L530.6 314.2 L530.9 314.5 L531.1 315.4 L531.4 316 L531.7 315.9 L532 315.5 L532.3 315.6 L532.6 316.2 L532.8 316.3 L533.1 316 L533.4 315.9 L533.7 316.1 L533.9 315.9 L534.2 315.2 L534.5 314.7 L534.8 314.9 L535 315.2 L535.3 315.5 L535.6 316.2 L535.8 316.6 L536.1 316.7 L536.4 316.5 L536.6 316.4 L536.9 316.8 L537.2 317.5 L537.4 317.9 L537.7 318.1 L538 318 L538.2 317.6 L538.5 317.4 L538.8 317.7 L539 318.2 L539.3 318.3 L539.5 317.7 L539.8 317.4 L540 317.6 L540.3 318 L540.5 318.4 L540.8 318.7 L541 318.5 L541.3 318.2 L541.5 318.2 L541.8 318.5 L542 318.7 L542.3 318.5 L542.5 318 L542.8 318.1 L543 318.6 L543.3 318.9 L543.5 318.8 L543.8 318.7 L544 319 L544.3 319.1 L544.5 319.2 L544.7 319.4 L545 319.6 L545.2 319.5 L545.4 319.1 L545.7 318.7 L545.9 318.8 L546.2 319.2 L546.4 319.7 L546.6 319.9 L546.9 319.9 L547.1 319.7 L547.3 319.5"/>
<path class="cv" stroke-width="1.85" d="M129.4 515.4 L160.4 504.3 L183 501.3 L200.7 500.3 L214.4 512.8 L226.6 501.9 L237.7 508 L245.8 505.3 L254.9 511.4 L262 511.4 L269.1 517.5 L281.3 517.5 L290.4 524.2 L296.1 527 L300.5 521.5 L312.7 543.2 L316.7 535.7 L322.8 537.1 L326.8 544.8 L328.9 541.8 L331.9 556 L334.5 554 L338 561 L340 561.4 L341.9 562.5 L344.4 570 L346.9 568.3 L349.3 573.5 L351.7 569.4 L353.9 574.8 L356.1 584.3 L358.3 581 L360.4 586.2 L362.4 594.3 L364.4 589.4 L366.3 590 L368.2 595 L370 600.1 L371.8 594.4 L373.6 606.1 L375.3 598.8 L377 608 L378.7 602.8 L380.3 605.8 L381.8 595.8 L383.4 615.7 L384.9 597.4 L386.4 608.1 L387.9 602.1 L389.3 598.8 L390.7 621 L392.1 605.2 L393.5 603.1 L394.8 615.9 L396.1 608.5 L397.4 605.5 L398.7 611.7 L399.9 611 L401.2 609.3 L402.4 604.4 L403.6 610.8 L404.7 613.9 L405.9 612.7 L407 610.9 L408.2 611.3 L409.3 606.6 L410.4 617.5 L411.5 602.7 L412.5 606.5 L413.6 611.6 L414.6 606 L415.6 603.6 L416.6 607.5 L417.6 607.4 L418.6 605.5 L419.6 602.9 L420.6 599.8 L421.5 602.6 L422.4 590.4 L423.4 603.1 L424.3 595.8 L425.2 594.2 L426.1 590.3 L427 595.2 L427.8 592.5 L428.7 589.9 L429.6 591.7 L430.4 588.9 L431.2 595.5 L432.1 583.2 L432.9 589 L433.7 581.3 L434.5 584.3 L435.3 587.2 L436.1 581 L436.9 579.3 L437.6 579.8 L438.4 578.1 L439.1 579.6 L439.9 579.6 L440.6 575.1 L441.4 571.3 L442.1 573.2 L442.8 575 L443.5 568.1 L444.2 570.4 L444.9 571 L445.6 568.6 L446.3 568.4 L447 570.9 L447.7 565.1 L448.4 563.2 L449 564.5 L449.7 565.9 L450.3 559.6 L451 560.4 L451.6 557.1 L452.3 559.5 L452.9 558.7 L453.5 555.9 L454.2 554.1 L454.8 554.4 L455.4 551.3 L456 553.4 L456.6 552.5 L457.2 549.3 L457.8 550.8 L458.4 547.8 L459 547.5 L459.6 547.3 L460.1 546.1 L460.7 545.9 L461.3 544.8 L461.8 542.3 L462.4 543.5 L463 541.7 L463.5 540.5 L464.1 541.7 L464.6 538.7 L465.2 538.8 L465.7 536.8 L466.2 537.3 L466.8 536.8 L467.3 536.7 L467.8 534.6 L468.3 534.5 L468.8 533.9 L469.4 533.5 L469.9 532.2 L470.4 532 L470.9 531.1 L471.4 530.7 L471.9 530.6 L472.4 529.7 L472.9 529.6 L473.3 528.6 L473.8 528.5 L474.3 528.1 L474.8 527.2 L475.3 526.6 L475.7 526.4 L476.2 525.3 L476.7 525.6 L477.1 524.8 L477.6 524.7 L478.1 523.9 L478.5 523.7 L479 523 L479.4 522.7 L479.9 522.8 L480.3 522.3 L480.8 521.4 L481.2 521.4 L481.6 520.7 L482.1 520.4 L482.5 520.6 L482.9 519.8 L483.4 519.1 L483.8 518.8 L484.2 518.4 L484.6 518.1 L485.1 518.2 L485.5 517.9 L485.9 517.5 L486.3 516.8 L486.7 516.3 L487.1 516.5 L487.5 516.4 L487.9 515.4 L488.3 515.3 L488.7 515.7 L489.1 515.2 L489.5 514.6 L489.9 514.3 L490.3 514.1 L490.7 513.9 L491.1 513.5 L491.5 513.6 L491.9 512.9 L492.2 512.6 L492.6 512.6 L493 512.6 L493.4 512.7 L493.8 512.3 L494.1 511.8 L494.5 511.4 L494.9 510.7 L495.2 510.5 L495.6 510.9 L496 511.5 L496.3 511 L496.7 510.4 L497.1 509.7 L497.4 509.2 L497.8 509.5 L498.1 509.6 L498.5 509.6 L498.8 509.6 L499.2 509 L499.5 508.7 L499.9 508.5 L500.2 508.3 L500.6 508.3 L500.9 508.3 L501.2 507.8 L501.6 507.6 L501.9 508 L502.3 507.9 L502.6 507.4 L502.9 507.4 L503.3 507.8 L503.6 507.1 L503.9 506.3 L504.2 506.4 L504.6 506.7 L504.9 506.7 L505.2 506.3 L505.5 506.6 L505.9 507.2 L506.2 506.8 L506.5 506 L506.8 505.6 L507.1 505.3 L507.5 505.4 L507.8 505.8 L508.1 505.6 L508.4 505.3 L508.7 505.1 L509 504.9 L509.3 505 L509.6 504.9 L509.9 504.7 L510.2 504.4 L510.5 504.5 L510.8 504.6 L511.1 504.4 L511.4 504.1 L511.7 503.9 L512 504.1 L512.3 504.3 L512.6 504.2 L512.9 503.9 L513.2 503.9 L513.5 504.1 L513.8 504.1 L514.1 503.8 L514.4 503.6 L514.7 503.5 L514.9 503.5 L515.2 503.5 L515.5 503.4 L515.8 503.4 L516.1 503.2 L516.4 503 L516.6 502.9 L516.9 502.7 L517.2 502.1 L517.5 502 L517.7 502.3 L518 502.5 L518.3 502.6 L518.6 502.6 L518.8 502.8 L519.1 502.8 L519.4 502.7 L519.7 502.3 L519.9 502.3 L520.2 502.4 L520.5 502.4 L520.7 502.5 L521 502.5 L521.2 502.4 L521.5 502.2 L521.8 501.8 L522 501.5 L522.3 501.6 L522.6 501.8 L522.8 501.9 L523.1 502 L523.3 501.9 L523.6 501.8 L523.8 501.9 L524.1 501.7 L524.3 501.6 L524.6 501.6 L524.9 501.8 L525.1 501.5 L525.4 501.1 L525.6 500.8 L525.9 500.8 L526.1 501.1 L526.3 501.4 L526.6 501.5 L526.8 501.5 L527.1 501.4 L527.3 501.3 L527.6 501.2 L527.8 501.1 L528.1 501 L528.3 501.2 L528.5 501.4 L528.8 501.4 L529 501.3 L529.3 501.2 L529.5 501.3 L529.7 501.5 L530 501.5 L530.2 501.1 L530.4 500.8"/>
<path class="cv" stroke-width="1.85" d="M130.3 -41.5 L160.7 155.4 L183.1 100.1 L200.4 142.6 L214.8 114.4 L226.9 141.1 L237.3 136.3 L246.3 181.8 L254.7 188.2 L262.3 179.8 L269 187.4 L280.8 179.3 L291.4 153.2 L300.5 198.7 L308.6 153.7 L316.2 198.9 L320.2 185.1 L322.5 187 L326.2 168.7 L329.1 167.4 L332.2 147.2 L337.9 168.7 L343.2 140 L347.8 188.2 L349.9 179.4 L352.4 141.5 L355 154.1 L358.8 136.4 L361.3 156 L364.8 138.7 L368.9 158.5 L370.5 151 L372.3 161.7 L377.3 144.6 L379 156.6 L380.9 149.7 L383.4 151.6 L388.5 165.5 L389.3 157.9 L390.4 165.5 L392 157.3 L393.5 160.4 L396 150.3 L399.8 165.5 L402.4 167.4 L404.6 154.1 L408.3 173.1 L409.9 159.8 L413.1 169.9 L414.4 162.3 L418.2 171.8 L420.7 157.9 L422.6 174.3 L423.4 168.2 L424.3 165.7 L425.2 183.4 L426.1 167.7 L427 170 L427.8 180.5 L428.7 168.7 L429.6 164.4 L430.4 183.3 L431.2 171.3 L432.1 176.4 L432.9 179.5 L433.7 178.9 L434.5 182.2 L435.3 176.8 L436.1 184.2 L436.9 185.5 L437.6 183.9 L438.4 187.8 L439.1 184.2 L439.9 190.6 L440.6 185.3 L441.4 191.4 L442.1 194.9 L442.8 186.2 L443.5 190.4 L444.2 194.4 L444.9 189.6 L445.6 191.7 L446.3 197.7 L447 192.8 L447.7 198.4 L448.4 194.5 L449 198.1 L449.7 199 L450.3 197.5 L451 198.7 L451.6 199.6 L452.3 195.2 L452.9 202.3 L453.5 198 L454.2 201.4 L454.8 200.4 L455.4 205.9 L456 203.5 L456.6 204.8 L457.2 203.8 L457.8 205 L458.4 208.1 L459 207 L459.6 204.2 L460.1 206.6 L460.7 207.3 L461.3 208.8 L461.8 208.6 L462.4 210.5 L463 210.3 L463.5 211.8 L464.1 210.2 L464.6 214.2 L465.2 209.2 L465.7 215.2 L466.2 213.2 L466.8 211.3 L467.3 213.5 L467.8 214 L468.3 213.6 L468.8 216.4 L469.4 214.2 L469.9 219 L470.4 215.4 L470.9 216.9 L471.4 217.3 L471.9 217.5 L472.4 218.5 L472.9 218.5 L473.3 219.4 L473.8 218.2 L474.3 220.3 L474.8 219.9 L475.3 220.9 L475.7 222.2 L476.2 222.2 L476.7 220.9 L477.1 220.3 L477.6 221.5 L478.1 222.4 L478.5 222.7 L479 223.3 L479.4 223.3 L479.9 223.4 L480.3 223.5 L480.8 225.3 L481.2 225.6 L481.6 224.9 L482.1 226.4 L482.5 226.3 L482.9 227 L483.4 226.9 L483.8 227.1 L484.2 227.7 L484.6 227.9 L485.1 227.5 L485.5 227.4 L485.9 228.6 L486.3 228.7 L486.7 228.3 L487.1 228.6 L487.5 227.7 L487.9 228.5 L488.3 229.4 L488.7 229.9 L489.1 230.4 L489.5 230.1 L489.9 230.8 L490.3 231.1 L490.7 231.8 L491.1 231.3 L491.5 231.6 L491.9 232.1 L492.2 232.2 L492.6 231.7 L493 231.6 L493.4 232 L493.8 232.4 L494.1 232.7 L494.5 232.6 L494.9 232.5 L495.2 232.6 L495.6 233.2 L496 233.7 L496.3 234 L496.7 234.6 L497.1 234.3 L497.4 234.3 L497.8 234.7 L498.1 235 L498.5 235.1 L498.8 235 L499.2 235.3 L499.5 235.4 L499.9 235 L500.2 234.8 L500.6 235.4 L500.9 235.7 L501.2 235.6 L501.6 235.7 L501.9 236.1 L502.3 236.8 L502.6 237 L502.9 236.8 L503.3 236.7 L503.6 237 L503.9 237 L504.2 236.8 L504.6 237 L504.9 237.3 L505.2 237.9 L505.5 237.9 L505.9 237.4 L506.2 237.3 L506.5 237.9 L506.8 238.3 L507.1 238.5 L507.5 238.5 L507.8 238.1 L508.1 238.2 L508.4 238.7 L508.7 238.9 L509 239.2 L509.3 239.6 L509.6 239.6 L509.9 239.2 L510.2 239 L510.5 239 L510.8 239.3 L511.1 239.8 L511.4 239.9 L511.7 239.5 L512 239.4 L512.3 239.4 L512.6 239.8 L512.9 240 L513.2 239.8 L513.5 239.6 L513.8 239.8 L514.1 240.1 L514.4 240.5 L514.7 240.5 L514.9 240.4 L515.2 240.5 L515.5 240.4 L515.8 240.4 L516.1 240.5 L516.4 240.5 L516.6 240.5 L516.9 240.8 L517.2 241 L517.5 241.1 L517.7 241.2 L518 241.1 L518.3 241.1 L518.6 241.1 L518.8 241.2 L519.1 241.2 L519.4 241.3 L519.7 241.2 L519.9 241.2 L520.2 241.5 L520.5 241.9 L520.7 242.1 L521 242.1 L521.2 242 L521.5 241.8 L521.8 241.7 L522 241.5 L522.3 241.6 L522.6 241.8 L522.8 242.1 L523.1 242.3 L523.3 242.5 L523.6 242.3 L523.8 241.8 L524.1 241.6 L524.3 241.9 L524.6 242.2 L524.9 242.3 L525.1 242.1 L525.4 241.8 L525.6 241.6 L525.9 241.8 L526.1 242.2 L526.3 242.4 L526.6 242.4 L526.8 242.5 L527.1 242.6 L527.3 242.5 L527.6 242.4 L527.8 242.4 L528.1 242.4 L528.3 242.5 L528.5 242.6 L528.8 242.6 L529 242.5 L529.3 242.4 L529.5 242.4 L529.7 242.3 L530 242.3 L530.2 242.7 L530.4 243.2"/>
<path class="cv" stroke-width="1.85" d="M129.4 409.2 L160.4 431.3 L183 431.3 L200.7 445.5 L214.4 439.4 L226.6 442.6 L237.7 438.4 L245.8 439.6 L254.9 436.6 L262 439 L268.7 424.4 L275.2 436.6 L279.2 435.5 L287.3 425.8 L294.4 433.3 L300.5 434.9 L308.6 429.9 L312.7 417.7 L317.7 424.8 L321.8 421.8 L325.8 414.7 L328.9 426.8 L334.9 410.6 L340 416.7 L341.9 408.6 L344.4 409.6 L346.9 416.3 L349.3 404.9 L351.7 399.4 L353.9 405.3 L356.1 403.6 L358.3 395.7 L360.4 395.1 L362.4 408.1 L364.4 395.7 L366.3 391.4 L368.2 399 L370 389.4 L371.8 387.8 L373.6 396 L375.3 397.5 L377 387 L378.7 386.9 L380.3 391.2 L381.8 392.6 L383.4 402.5 L384.9 393 L386.4 388.1 L387.9 394.9 L389.3 402.2 L390.7 383 L392.1 395.3 L393.5 392.9 L394.8 405.5 L396.1 391.6 L397.4 400.6 L398.7 389.8 L399.9 389.6 L401.2 378.9 L402.4 391.5 L403.6 385.9 L404.7 378.4 L405.9 391.9 L407 386.9 L408.2 384.3 L409.3 392.4 L410.4 410 L411.5 393.6 L412.5 401.5 L413.6 400.8 L414.6 401 L415.6 399.4 L416.6 397 L417.6 415.9 L418.6 388.6 L419.6 409.8 L420.6 411.6 L421.5 408.3 L422.4 407.9 L423.4 403.6 L424.3 407.2 L425.2 407.1 L426.1 416.4 L427 418.9 L427.8 401.3 L428.7 419.4 L429.6 420.1 L430.4 417.1 L431.2 420.4 L432.1 429.7 L432.9 421.5 L433.7 415.5 L434.5 429 L435.3 429.4 L436.1 421.6 L436.9 427.2 L437.6 429 L438.4 427.7 L439.1 425.1 L439.9 434.3 L440.6 434.3 L441.4 425.3 L442.1 442.4 L442.8 432.1 L443.5 440.7 L444.2 437.2 L444.9 436.6 L445.6 436.1 L446.3 441.4 L447 436.7 L447.7 443.1 L448.4 446.6 L449 448 L449.7 441.6 L450.3 449.1 L451 449.6 L451.6 443.5 L452.3 448.1 L452.9 452.4 L453.5 445.2 L454.2 452.5 L454.8 442.3 L455.4 454.3 L456 453 L456.6 450.4 L457.2 453.5 L457.8 451.6 L458.4 452.9 L459 456.6 L459.6 455.7 L460.1 456.9 L460.7 457.6 L461.3 457.2 L461.8 454.8 L462.4 453.7 L463 458.8 L463.5 458.1 L464.1 459.1 L464.6 457.1 L465.2 463 L465.7 456.7 L466.2 459.7 L466.8 459 L467.3 462.9 L467.8 461.7 L468.3 460.2 L468.8 462 L469.4 463 L469.9 463.2 L470.4 462.6 L470.9 461.9 L471.4 463 L471.9 463.4 L472.4 461.8 L472.9 462.3 L473.3 463.3 L473.8 464.9 L474.3 466.1 L474.8 465.4 L475.3 463.7 L475.7 464.8 L476.2 464.9 L476.7 465.2 L477.1 465.7 L477.6 466.4 L478.1 466.5 L478.5 466.1 L479 465.9 L479.4 466.7 L479.9 467.8 L480.3 467.4 L480.8 466.9 L481.2 468 L481.6 467.8 L482.1 467.5 L482.5 467 L482.9 467.1 L483.4 468.1 L483.8 468.2 L484.2 467.7 L484.6 468.5 L485.1 467.8 L485.5 468.4 L485.9 468.2 L486.3 467 L486.7 467.8 L487.1 467.6 L487.5 467.8 L487.9 468.4 L488.3 469.3 L488.7 469.4 L489.1 468.8 L489.5 468.8 L489.9 468.9 L490.3 468.5 L490.7 468.8 L491.1 469.1 L491.5 469.3 L491.9 469 L492.2 469 L492.6 468.5 L493 468.7 L493.4 468.8 L493.8 468.6 L494.1 469.2 L494.5 468.9 L494.9 468 L495.2 467.9 L495.6 468.7 L496 469.1 L496.3 468.4 L496.7 468.6 L497.1 468.9 L497.4 469.2 L497.8 469 L498.1 468.7 L498.5 468.8 L498.8 468.9 L499.2 469.2 L499.5 469.6 L499.9 469.5 L500.2 469.3 L500.6 469.1 L500.9 469.3 L501.2 469.5 L501.6 469.1 L501.9 469 L502.3 469 L502.6 468.8 L502.9 468.8 L503.3 469 L503.6 469.3 L503.9 469.1 L504.2 468.9 L504.6 469.3 L504.9 468.9 L505.2 468.7 L505.5 469 L505.9 469.1 L506.2 468.7 L506.5 468.5 L506.8 468.6 L507.1 469.1 L507.5 469.6 L507.8 469.4 L508.1 468.9 L508.4 469.1 L508.7 469.1 L509 468.7 L509.3 468.5 L509.6 468.8 L509.9 469 L510.2 469 L510.5 469 L510.8 469.6 L511.1 470 L511.4 469.9 L511.7 469.3 L512 469 L512.3 469.4 L512.6 469.8 L512.9 469.8 L513.2 469.5 L513.5 469.3 L513.8 469.4 L514.1 469.5 L514.4 469.3 L514.7 469.1 L514.9 469.2 L515.2 469.3 L515.5 469.1 L515.8 469.3 L516.1 469.5 L516.4 469.4 L516.6 469.2 L516.9 469.1 L517.2 469.1 L517.5 469.3 L517.7 469.5 L518 469.2 L518.3 468.9 L518.6 469 L518.8 469 L519.1 469.1 L519.4 469.5 L519.7 469.6 L519.9 469.5 L520.2 469.2 L520.5 468.9 L520.7 469.1 L521 469.2 L521.2 469.1 L521.5 469 L521.8 469.1 L522 469 L522.3 468.9 L522.6 469.2 L522.8 469.6 L523.1 469.5 L523.3 469.1 L523.6 469.1 L523.8 469.4 L524.1 469.8 L524.3 470 L524.6 469.9 L524.9 469.6 L525.1 469.5 L525.4 469.3 L525.6 469.2 L525.9 469.2 L526.1 469.3 L526.3 469.2 L526.6 469.1 L526.8 469.2 L527.1 469.6 L527.3 469.7 L527.6 469.5 L527.8 469.3 L528.1 469.3 L528.3 469.5 L528.5 469.6 L528.8 469.7 L529 469.8 L529.3 470 L529.5 470.1 L529.7 470.2 L530 470.1 L530.2 469.8 L530.4 469.8"/>
<path class="cv" stroke-width="1.85" d="M129.4 364.8 L160.4 353.7 L183 355.7 L200.7 342.2 L214.4 336.7 L226.6 344.8 L234.7 342.8 L245.8 344.8 L262 338.7 L268.1 348.2 L275.2 335.5 L280.3 336.7 L287.3 341.1 L296.1 330 L300.5 333 L308.6 322.3 L313.7 329.4 L319.7 328.6 L323.8 332.6 L327 331 L331.9 317.8 L336 325 L339 311.8 L341.9 316 L344.4 310.4 L346.9 311.3 L349.3 298.7 L351.7 312.7 L353.9 304.2 L356.1 309.6 L358.3 304.3 L360.4 301.2 L362.4 299.6 L364.4 297.5 L366.3 298.9 L368.2 294.1 L370 302.5 L371.8 295.8 L373.6 288.4 L375.3 299.5 L377 286.4 L378.7 301.5 L380.3 290.4 L381.8 287.5 L383.4 298.5 L384.9 280.9 L386.4 283.5 L387.9 287.2 L389.3 279.1 L390.7 284.2 L392.1 280.1 L393.5 280.9 L394.8 287.2 L396.1 277.3 L397.4 282.8 L398.7 286.9 L399.9 273.9 L401.2 285.2 L402.4 283.4 L403.6 275.8 L404.7 282.5 L405.9 282.3 L407 279 L408.2 281.3 L409.3 281.1 L410.4 271.6 L411.5 286.1 L412.5 277.2 L413.6 275.7 L414.6 276.7 L415.6 276.7 L416.6 287.5 L417.6 272.7 L418.6 282 L419.6 274.9 L420.6 272.3 L421.5 284.7 L422.4 280.2 L423.4 273.5 L424.3 270.8 L425.2 273.9 L426.1 271.4 L427 276.4 L427.8 274.7 L428.7 276.8 L429.6 268.4 L430.4 274.9 L431.2 271.3 L432.1 272 L432.9 269 L433.7 276.6 L434.5 277.8 L435.3 270.7 L436.1 274.5 L436.9 269.1 L437.6 274.8 L438.4 276.2 L439.1 275.2 L439.9 273 L440.6 276.5 L441.4 271.6 L442.1 279.2 L442.8 278.4 L443.5 272.8 L444.2 281.1 L444.9 275.8 L445.6 276.7 L446.3 276.3 L447 279.6 L447.7 280 L448.4 276.7 L449 279.6 L449.7 278.3 L450.3 278.9 L451 281.5 L451.6 280.3 L452.3 282.8 L452.9 279.8 L453.5 281.7 L454.2 281.5 L454.8 285.3 L455.4 281.3 L456 284.5 L456.6 282.4 L457.2 284.2 L457.8 284.5 L458.4 285.4 L459 284.2 L459.6 286 L460.1 285.3 L460.7 286 L461.3 284.8 L461.8 287.5 L462.4 287.8 L463 285.9 L463.5 285.8 L464.1 288.7 L464.6 290.2 L465.2 286.4 L465.7 289.2 L466.2 288.5 L466.8 289.9 L467.3 288.9 L467.8 289.8 L468.3 290.7 L468.8 291.2 L469.4 290.7 L469.9 290.1 L470.4 292.3 L470.9 291.9 L471.4 292.3 L471.9 294.2 L472.4 293.8 L472.9 292.2 L473.3 292.7 L473.8 295.4 L474.3 294.1 L474.8 294.5 L475.3 295.3 L475.7 294.9 L476.2 295.4 L476.7 295 L477.1 294.2 L477.6 295.5 L478.1 297.2 L478.5 297.8 L479 297.4 L479.4 295.7 L479.9 298.2 L480.3 297.4 L480.8 297.4 L481.2 299.5 L481.6 298.6 L482.1 299.4 L482.5 299.7 L482.9 299.9 L483.4 299.9 L483.8 299.6 L484.2 299.8 L484.6 299.9 L485.1 300.9 L485.5 301.2 L485.9 301 L486.3 301.8 L486.7 301.6 L487.1 302 L487.5 302.9 L487.9 303.2 L488.3 303.4 L488.7 303.6 L489.1 304.4 L489.5 303.7 L489.9 303.6 L490.3 303.8 L490.7 304.3 L491.1 304.8 L491.5 304.7 L491.9 304.8 L492.2 305.5 L492.6 305.8 L493 305.4 L493.4 305.5 L493.8 305.5 L494.1 306 L494.5 306.7 L494.9 306.4 L495.2 306.3 L495.6 307 L496 307.5 L496.3 307.3 L496.7 307 L497.1 306.8 L497.4 306.6 L497.8 307 L498.1 307.9 L498.5 308.3 L498.8 308.5 L499.2 308.9 L499.5 309.1 L499.9 308.7 L500.2 309 L500.6 309.6 L500.9 309.4 L501.2 309.4 L501.6 309.9 L501.9 310.1 L502.3 310 L502.6 310.2 L502.9 310.8 L503.3 311.6 L503.6 311.8 L503.9 311 L504.2 310.9 L504.6 311 L504.9 311.1 L505.2 311.4 L505.5 311.6 L505.9 311.8 L506.2 312.3 L506.5 312.9 L506.8 313.3 L507.1 312.9 L507.5 313 L507.8 313.5 L508.1 313.3 L508.4 312.8 L508.7 313.4 L509 313.9 L509.3 313.8 L509.6 313.2 L509.9 313.2 L510.2 314 L510.5 314.5 L510.8 314.7 L511.1 314.6 L511.4 314.6 L511.7 314.5 L512 314.1 L512.3 313.8 L512.6 314.2 L512.9 314.9 L513.2 315.3 L513.5 315.5 L513.8 316 L514.1 316.3 L514.4 316.2 L514.7 316.2 L514.9 316.3 L515.2 316.1 L515.5 316.1 L515.8 316.6 L516.1 316.8 L516.4 316.4 L516.6 316.4 L516.9 317 L517.2 317.4 L517.5 317.4 L517.7 317.2 L518 317.3 L518.3 317.4 L518.6 317.6 L518.8 317.8 L519.1 317.4 L519.4 317.1 L519.7 317.9 L519.9 318.7 L520.2 318.7 L520.5 318.2 L520.7 318 L521 318.1 L521.2 318.1 L521.5 317.8 L521.8 317.3 L522 316.9 L522.3 316.9 L522.6 317.1 L522.8 317.4 L523.1 318 L523.3 318.6 L523.6 319.1 L523.8 319.1 L524.1 318.6 L524.3 318.1 L524.6 318.1 L524.9 318.4 L525.1 318.7 L525.4 318.8 L525.6 318.6 L525.9 318.4 L526.1 318.5 L526.3 318.8 L526.6 319 L526.8 319 L527.1 318.9 L527.3 319.1 L527.6 319.1 L527.8 319 L528.1 319.1 L528.3 319.1 L528.5 319 L528.8 318.9 L529 319.1 L529.3 319.8 L529.5 320.3 L529.7 320.4 L530 320.5 L530.2 320.3 L530.4 320"/>
</g>
<rect class="ax" x="107.5" y="15.5" width="454.5" height="636.8"/>
<path class="ax" d="M107.5 45.8h6.5M562 45.8h-6.5M107.5 106.5h6.5M562 106.5h-6.5M107.5 167.1h6.5M562 167.1h-6.5M107.5 227.8h6.5M562 227.8h-6.5M107.5 288.4h6.5M562 288.4h-6.5M107.5 349.1h6.5M562 349.1h-6.5M107.5 409.7h6.5M562 409.7h-6.5M107.5 470.4h6.5M562 470.4h-6.5M107.5 531h6.5M562 531h-6.5M107.5 591.7h6.5M562 591.7h-6.5M130 652.3v-3.4M130 15.5v3.4M147.5 652.3v-3.4M147.5 15.5v3.4M161.7 652.3v-3.4M161.7 15.5v3.4M173.8 652.3v-3.4M173.8 15.5v3.4M184.2 652.3v-3.4M184.2 15.5v3.4M193.5 652.3v-3.4M193.5 15.5v3.4M201.7 652.3v-6.5M201.7 15.5v6.5M255.9 652.3v-3.4M255.9 15.5v3.4M287.7 652.3v-3.4M287.7 15.5v3.4M310.2 652.3v-3.4M310.2 15.5v3.4M327.6 652.3v-3.4M327.6 15.5v3.4M341.9 652.3v-3.4M341.9 15.5v3.4M353.9 652.3v-3.4M353.9 15.5v3.4M364.4 652.3v-3.4M364.4 15.5v3.4M373.6 652.3v-3.4M373.6 15.5v3.4M381.8 652.3v-6.5M381.8 15.5v6.5M436.1 652.3v-3.4M436.1 15.5v3.4M467.8 652.3v-3.4M467.8 15.5v3.4M490.3 652.3v-3.4M490.3 15.5v3.4M507.8 652.3v-3.4M507.8 15.5v3.4M522 652.3v-3.4M522 15.5v3.4M534.1 652.3v-3.4M534.1 15.5v3.4M544.5 652.3v-3.4M544.5 15.5v3.4M553.8 652.3v-3.4M553.8 15.5v3.4"/>
<text class="tk" text-anchor="end" x="97.3" y="52.7">1.4</text>
<text class="tk" text-anchor="end" x="97.3" y="113.4">1.2</text>
<text class="tk" text-anchor="end" x="97.3" y="174">1.0</text>
<text class="tk" text-anchor="end" x="97.3" y="234.7">0.8</text>
<text class="tk" text-anchor="end" x="97.3" y="295.3">0.6</text>
<text class="tk" text-anchor="end" x="97.3" y="356">0.4</text>
<text class="tk" text-anchor="end" x="97.3" y="416.6">0.2</text>
<text class="tk" text-anchor="end" x="97.3" y="477.3">0</text>
<text class="tk" text-anchor="end" x="97.3" y="537.9"><tspan textLength="20.7" lengthAdjust="spacingAndGlyphs">−</tspan><tspan dx="-1.4">0.2</tspan></text>
<text class="tk" text-anchor="end" x="97.3" y="598.6"><tspan textLength="20.7" lengthAdjust="spacingAndGlyphs">−</tspan><tspan dx="-1.4">0.4</tspan></text>
<text class="tk" text-anchor="end" x="97.3" y="659.2"><tspan textLength="20.7" lengthAdjust="spacingAndGlyphs">−</tspan><tspan dx="-1.4">0.6</tspan></text>
<text class="tk" x="178.9" y="683.5">10<tspan class="sup" dx="0.3" dy="-9.5" textLength="12.3" lengthAdjust="spacingAndGlyphs">−</tspan><tspan class="sup" dx="-0.1">1</tspan></text>
<text class="tk" x="365.1" y="683.5">10<tspan class="sup" dx="0.2" dy="-9.5">0</tspan></text>
<text class="tk" x="545.3" y="683.5">10<tspan class="sup" dx="0.2" dy="-9.5">1</tspan></text>
<text class="lab" style="font-size:29.5px" x="322.3" y="722.7">kz</text>
<text class="lab" x="1" y="203.7">C<tspan class="sub" dx="-0.5" dy="4.2">13</tspan></text>
<text class="lab" x="1" y="324.3">C<tspan class="sub" dx="-0.5" dy="4.2">33</tspan></text>
<text class="lab" x="1" y="446">C<tspan class="sub" dx="-0.5" dy="4.2">22</tspan></text>
<text class="lab" x="1" y="567.1">C<tspan class="sub" dx="-0.5" dy="4.2">11</tspan></text>
<text x="2.8" y="24.7" style="font-size:29.5px">(<tspan font-style="italic">a</tspan><tspan dx="0.8">)</tspan></text>
<g clip-path="url(#clipb)">
<line class="ax" x1="716.4" y1="174.8" x2="1170.5" y2="174.8"/>
<line class="ax" x1="716.4" y1="270.3" x2="1170.5" y2="270.3"/>
<line class="ax" x1="716.4" y1="461.3" x2="1170.5" y2="461.3"/>
<line class="ax" x1="716.4" y1="493.1" x2="1170.5" y2="493.1"/>
<path class="cv" stroke-width="1.75" stroke-dasharray="1.65 2.7" d="M787 501.4 L809.2 499.4 L819.4 496.3 L839.6 486.2 L856.8 507.5 L871 507.5 L882.2 524.7 L895.3 523.7 L904.4 536.8 L912.5 560.1 L922.7 555.1 L932.8 567.2 L942.9 565.2 L950 583.4 L954.6 590.8 L964.5 622.8 L974.3 620.3 L977.7 625.9 L981 625.3 L984.2 634.4 L987.3 634.7 L990.2 639.8 L993.1 646.9 L995.8 630.1 L998.5 645.3 L1001 638.2 L1003.5 644.4 L1005.9 639.9 L1008.2 637.2 L1010.5 648.7 L1012.7 642.8 L1014.8 641.3 L1016.9 641.7 L1019 643 L1020.9 639.8 L1022.9 639.2 L1024.8 651.7 L1026.6 632.3 L1028.4 667.1 L1030.1 635.1 L1031.9 635.1 L1033.5 650.6 L1035.2 641 L1036.8 640.2 L1038.4 636.3 L1039.9 647.7 L1041.5 642.8 L1042.9 639.9 L1044.4 629.2 L1045.8 636.8 L1047.2 618.8 L1048.6 633.9 L1050 642.4 L1051.3 616.5 L1052.6 630.7 L1053.9 627.9 L1055.2 624.4 L1056.5 622.8 L1057.7 611.2 L1058.9 619.7 L1060.1 620.8 L1061.3 622.9 L1062.4 614 L1063.6 608.8 L1064.7 611.4 L1065.8 613.7 L1066.9 610.6 L1068 610.3 L1069 608.8 L1070.1 605.9 L1071.1 614.2 L1072.1 607.1 L1073.1 600.6 L1074.1 607.7 L1075.1 604.4 L1076.1 603.4 L1077.1 603.4 L1078 595.8 L1078.9 593.9 L1079.9 596.1 L1080.8 598.4 L1081.7 596.4 L1082.6 589 L1083.5 591.5 L1084.3 589.6 L1085.2 589.6 L1086 587.3 L1086.9 583.9 L1087.7 583 L1088.6 577.2 L1089.4 580.6 L1090.2 572.2 L1091 576.4 L1091.8 570 L1092.6 574.7 L1093.3 571.1 L1094.1 566.8 L1094.9 567.3 L1095.6 562 L1096.4 568 L1097.1 565.4 L1097.9 564.8 L1098.6 561.9 L1099.3 557.9 L1100 562.7 L1100.7 557.3 L1101.4 560.1 L1102.1 561 L1102.8 558.2 L1103.5 558.4 L1104.2 554.1 L1104.8 553.8 L1105.5 557.9 L1106.2 554.7 L1106.8 551.6 L1107.5 551.8 L1108.1 549.2 L1108.8 552.4 L1109.4 550.1 L1110 546.9 L1110.6 550 L1111.3 545.3 L1111.9 544.9 L1112.5 545.1 L1113.1 540.9 L1113.7 546.7 L1114.3 543.2 L1114.9 541.7 L1115.4 540.7 L1116 542.9 L1116.6 539.7 L1117.2 542.9 L1117.7 534.5 L1118.3 537.3 L1118.9 540.2 L1119.4 538.3 L1120 535.3 L1120.5 537.7 L1121.1 536.2 L1121.6 532.7 L1122.2 534 L1122.7 531.3 L1123.2 535.1 L1123.7 531 L1124.3 531.6 L1124.8 531.1 L1125.3 531.3 L1125.8 531.2 L1126.3 530.8 L1126.8 527.1 L1127.3 531.6 L1127.8 527.9 L1128.3 528 L1128.8 528.8 L1129.3 527.2 L1129.8 525.7 L1130.3 522.9 L1130.8 525.5 L1131.2 526.8 L1131.7 525.3 L1132.2 523.4 L1132.7 525.5 L1133.1 524.1 L1133.6 523.4 L1134 520.9 L1134.5 520.9 L1135 522.6 L1135.4 522.4 L1135.9 522.3 L1136.3 519.2 L1136.8 520.8 L1137.2 521 L1137.6 520.3 L1138.1 519.3 L1138.5 517.9 L1138.9 517.9 L1139.4 517.7 L1139.8 516.7 L1140.2 516.9 L1140.7 514.4 L1141.1 515.8 L1141.5 517.3 L1141.9 517.3 L1142.3 515.5 L1142.7 513.9 L1143.2 514.5 L1143.6 514.6 L1144 514.6 L1144.4 514.4 L1144.8 514.2 L1145.2 515.3 L1145.6 514.4 L1146 513.7 L1146.4 512.8 L1146.8 511.1 L1147.1 511.7 L1147.5 511.6 L1147.9 510.6 L1148.3 510.7 L1148.7 511.6 L1149.1 511.9 L1149.4 510.8 L1149.8 510.5 L1150.2 510.7 L1150.6 511.3 L1150.9 511 L1151.3 509.2 L1151.7 509.7 L1152 509.5 L1152.4 508.3 L1152.8 508.6 L1153.1 508.7 L1153.5 509.2 L1153.8 509.9 L1154.2 508.8 L1154.6 509.4 L1154.9 508.5 L1155.3 506.9 L1155.6 506.7 L1156 507.7 L1156.3 507.9 L1156.6 507 L1157 506.6 L1157.3 506.6 L1157.7 505.9 L1158 506.3 L1158.4 506.9 L1158.7 505.8 L1159 504.9 L1159.4 504.9 L1159.7 504.8 L1160 504.6 L1160.3 505.1 L1160.7 505.6 L1161 505.3 L1161.3 505 L1161.7 504.3 L1162 503.4 L1162.3 503.3 L1162.6 504.2 L1162.9 504.5 L1163.3 503.7 L1163.6 502.8 L1163.9 503.4 L1164.2 504 L1164.5 503.2 L1164.8 502.7 L1165.1 502.3 L1165.4 502.7 L1165.7 503.4 L1166 502.7 L1166.4 502.4 L1166.7 502.6 L1167 502.3 L1167.3 501.7 L1167.6 501.2 L1167.9 500.9 L1168.2 500.9 L1168.5 501.3 L1168.7 501.6 L1169 501.9 L1169.3 502.1 L1169.6 502 L1169.9 501.4 L1170.2 501.2 L1170.5 501.5"/>
<path class="cv" stroke-width="1.75" stroke-dasharray="1.65 2.7" d="M787 158.5 L819.4 195.8 L841.6 139.1 L856.8 154.5 L872 218.1 L884.2 185.7 L895.3 222.2 L904.5 170 L912.5 129.4 L920.6 124.9 L932.8 128.4 L939.9 109.1 L944.5 85.8 L950.5 99.4 L957 110 L963.2 119.6 L968.3 100.7 L978.4 96.9 L982.1 110.8 L991 99.4 L998 90 L1004.9 74.1 L1008 122.1 L1010.5 105.3 L1012.7 82.9 L1014.8 110.1 L1016.9 104.9 L1019 104.3 L1020.9 102.7 L1022.9 105.6 L1024.8 103.8 L1026.6 99.8 L1028.4 90.1 L1030.1 101.7 L1031.9 103.1 L1033.5 95 L1035.2 99.6 L1036.8 99.2 L1038.4 96.6 L1039.9 99.6 L1041.5 100.2 L1042.9 100.7 L1044.4 92.6 L1045.8 116.7 L1047.2 99.1 L1048.6 104.8 L1050 98 L1051.3 104.2 L1052.6 114.4 L1053.9 90.3 L1055.2 102.2 L1056.5 91 L1057.7 91.9 L1058.9 90.6 L1060.1 81.2 L1061.3 100.1 L1062.4 86.6 L1063.6 105 L1064.7 79.8 L1065.8 99.9 L1066.9 88.3 L1068 87.1 L1069 93.9 L1070.1 88.4 L1071.1 85.9 L1072.1 96.2 L1073.1 80.6 L1074.1 98.2 L1075.1 89 L1076.1 95.9 L1077.1 88.4 L1078 87.1 L1078.9 100 L1079.9 86.7 L1080.8 94.4 L1081.7 87.9 L1082.6 91.4 L1083.5 95.8 L1084.3 86.7 L1085.2 91.3 L1086 92.9 L1086.9 105.1 L1087.7 91.9 L1088.6 100.1 L1089.4 89.7 L1090.2 98.2 L1091 101.3 L1091.8 94.3 L1092.6 98 L1093.3 101.6 L1094.1 93.4 L1094.9 102.8 L1095.6 92.7 L1096.4 98.2 L1097.1 97.9 L1097.9 102.8 L1098.6 97.6 L1099.3 108 L1100 98.8 L1100.7 102.1 L1101.4 102 L1102.1 106 L1102.8 105.4 L1103.5 105.9 L1104.2 106.6 L1104.8 104.7 L1105.5 110.3 L1106.2 104.9 L1106.8 107 L1107.5 110.4 L1108.1 107.4 L1108.8 111.8 L1109.4 114.4 L1110 109.9 L1110.6 110 L1111.3 110.2 L1111.9 109.4 L1112.5 116.6 L1113.1 112.4 L1113.7 111 L1114.3 112.6 L1114.9 116.1 L1115.4 112.5 L1116 117.5 L1116.6 115.5 L1117.2 116 L1117.7 115.2 L1118.3 116.9 L1118.9 119.7 L1119.4 119 L1120 116.3 L1120.5 116.4 L1121.1 119.7 L1121.6 119.4 L1122.2 120.1 L1122.7 120.8 L1123.2 118.1 L1123.7 121.6 L1124.3 123.1 L1124.8 123.1 L1125.3 120.6 L1125.8 122.5 L1126.3 123.5 L1126.8 127.3 L1127.3 123.5 L1127.8 124 L1128.3 125.2 L1128.8 125.9 L1129.3 123.5 L1129.8 124.9 L1130.3 126.2 L1130.8 125.5 L1131.2 125.8 L1131.7 127.6 L1132.2 126.8 L1132.7 127.9 L1133.1 128.3 L1133.6 128.4 L1134 130.4 L1134.5 130.3 L1135 131.1 L1135.4 130.8 L1135.9 132 L1136.3 132.5 L1136.8 132.3 L1137.2 132.2 L1137.6 133.8 L1138.1 133.5 L1138.5 134.3 L1138.9 133.3 L1139.4 133.2 L1139.8 133.8 L1140.2 134.6 L1140.7 135.5 L1141.1 134.4 L1141.5 135 L1141.9 135.4 L1142.3 135.7 L1142.7 136.2 L1143.2 136 L1143.6 136.9 L1144 138 L1144.4 137.6 L1144.8 138 L1145.2 138.9 L1145.6 139.1 L1146 138.9 L1146.4 139.7 L1146.8 139.6 L1147.1 139.4 L1147.5 140 L1147.9 141.4 L1148.3 142.6 L1148.7 142.5 L1149.1 141.2 L1149.4 141.5 L1149.8 142.1 L1150.2 141.1 L1150.6 140.5 L1150.9 140.7 L1151.3 142.4 L1151.7 143.3 L1152 143.1 L1152.4 142.6 L1152.8 143.3 L1153.1 144 L1153.5 144.8 L1153.8 144.3 L1154.2 143.8 L1154.6 144.2 L1154.9 144.5 L1155.3 144.6 L1155.6 144.5 L1156 145.3 L1156.3 145.7 L1156.6 145.6 L1157 145.6 L1157.3 146.4 L1157.7 146.9 L1158 147.3 L1158.4 147.2 L1158.7 147.2 L1159 147.9 L1159.4 148.2 L1159.7 148.6 L1160 148.4 L1160.3 148.4 L1160.7 148.6 L1161 148.2 L1161.3 148.8 L1161.7 149.8 L1162 150.2 L1162.3 150.2 L1162.6 150 L1162.9 149.7 L1163.3 149.4 L1163.6 149.7 L1163.9 150.2 L1164.2 150 L1164.5 150.1 L1164.8 150.5 L1165.1 150.7 L1165.4 151 L1165.7 151.9 L1166 152.7 L1166.4 152.9 L1166.7 152.7 L1167 152.5 L1167.3 153.4 L1167.6 154.3 L1167.9 154.3 L1168.2 154.5 L1168.5 154.9 L1168.7 154.8 L1169 154.5 L1169.3 154.9 L1169.6 155.5 L1169.9 155.7 L1170.2 155.9 L1170.5 156"/>
<path class="cv" stroke-width="1.75" stroke-dasharray="1.65 2.7" d="M787 423.6 L819.4 434.3 L841.6 444.4 L856.8 425.2 L871 422.8 L884.2 404.5 L895.3 399.9 L904.4 401.3 L912.5 377.6 L922.7 380.6 L932.8 373.5 L944 368 L951.7 365.5 L953.8 356.8 L960 346 L962.7 350.8 L966.8 337.4 L970.6 345.4 L974.2 345.2 L977.7 341.7 L981 352.7 L984.2 337.3 L987.3 355.1 L990.2 358.2 L993.1 347.4 L995.8 361.6 L998.5 346.2 L1001 352.2 L1003.5 366.1 L1005.9 363.1 L1008.2 359.8 L1010.5 361 L1012.7 372.9 L1014.8 374 L1016.9 378.8 L1019 370.5 L1020.9 362.4 L1022.9 369.9 L1024.8 377.6 L1026.6 375 L1028.4 378.8 L1030.1 370.7 L1031.9 374.5 L1033.5 380.1 L1035.2 405 L1036.8 371.6 L1038.4 388.8 L1039.9 383.5 L1041.5 391.8 L1042.9 385.6 L1044.4 389.6 L1045.8 394 L1047.2 401.4 L1048.6 396.2 L1050 400.6 L1051.3 396.6 L1052.6 394 L1053.9 404.8 L1055.2 413.3 L1056.5 391.2 L1057.7 409 L1058.9 403 L1060.1 409 L1061.3 415.7 L1062.4 399.6 L1063.6 410.2 L1064.7 413.2 L1065.8 411.9 L1066.9 404.3 L1068 410.6 L1069 411.3 L1070.1 416.9 L1071.1 417 L1072.1 405.7 L1073.1 419.9 L1074.1 417.4 L1075.1 419.6 L1076.1 416.7 L1077.1 422.6 L1078 418.6 L1078.9 418.5 L1079.9 423.4 L1080.8 421.4 L1081.7 420.2 L1082.6 428.7 L1083.5 422 L1084.3 433.3 L1085.2 424.5 L1086 428.2 L1086.9 427.8 L1087.7 427.1 L1088.6 427 L1089.4 427 L1090.2 427.1 L1091 433.3 L1091.8 430.9 L1092.6 432.3 L1093.3 434.9 L1094.1 431.4 L1094.9 432.9 L1095.6 426.7 L1096.4 429.3 L1097.1 429.4 L1097.9 432.4 L1098.6 433.6 L1099.3 432.9 L1100 437 L1100.7 428.5 L1101.4 431.7 L1102.1 440 L1102.8 431.2 L1103.5 436.9 L1104.2 431.7 L1104.8 437.6 L1105.5 434.1 L1106.2 439 L1106.8 439.4 L1107.5 436.4 L1108.1 435.9 L1108.8 438.5 L1109.4 438.5 L1110 439.6 L1110.6 439.2 L1111.3 438.3 L1111.9 439.1 L1112.5 438.3 L1113.1 439.9 L1113.7 439.2 L1114.3 438.9 L1114.9 444 L1115.4 440.2 L1116 442.6 L1116.6 441.6 L1117.2 439 L1117.7 445 L1118.3 440.2 L1118.9 442.6 L1119.4 441.4 L1120 443.3 L1120.5 443.9 L1121.1 446.3 L1121.6 445.5 L1122.2 442.3 L1122.7 443.3 L1123.2 444.8 L1123.7 440.2 L1124.3 444.6 L1124.8 446.6 L1125.3 446.8 L1125.8 443.6 L1126.3 443.9 L1126.8 449.5 L1127.3 444.8 L1127.8 445.3 L1128.3 442.7 L1128.8 446.5 L1129.3 449.6 L1129.8 447.3 L1130.3 445.8 L1130.8 447 L1131.2 446 L1131.7 447.5 L1132.2 446.3 L1132.7 449.1 L1133.1 447.4 L1133.6 447.1 L1134 448.1 L1134.5 447.3 L1135 446.9 L1135.4 445.4 L1135.9 447.9 L1136.3 446.9 L1136.8 445.8 L1137.2 449.2 L1137.6 448 L1138.1 448.2 L1138.5 449.2 L1138.9 449.1 L1139.4 449.1 L1139.8 449.6 L1140.2 448.8 L1140.7 449.8 L1141.1 451.1 L1141.5 451.4 L1141.9 448.7 L1142.3 448.9 L1142.7 449.8 L1143.2 450.2 L1143.6 449.3 L1144 449.9 L1144.4 451.4 L1144.8 450.4 L1145.2 451.6 L1145.6 451.7 L1146 451.5 L1146.4 449.1 L1146.8 448.5 L1147.1 450.5 L1147.5 450.9 L1147.9 451.1 L1148.3 451.4 L1148.7 451.5 L1149.1 451.2 L1149.4 451.7 L1149.8 452 L1150.2 451.5 L1150.6 451.3 L1150.9 451 L1151.3 451.5 L1151.7 452.2 L1152 452.4 L1152.4 451.8 L1152.8 451.5 L1153.1 451.5 L1153.5 452.2 L1153.8 452.3 L1154.2 452.4 L1154.6 452.3 L1154.9 451.7 L1155.3 451.6 L1155.6 452.5 L1156 453.1 L1156.3 452.4 L1156.6 451.7 L1157 451.5 L1157.3 451.3 L1157.7 452.1 L1158 452.9 L1158.4 452.6 L1158.7 452.2 L1159 451.7 L1159.4 452.7 L1159.7 454.2 L1160 454 L1160.3 452.7 L1160.7 453.1 L1161 453.7 L1161.3 453.8 L1161.7 453.8 L1162 453.3 L1162.3 453.1 L1162.6 453.1 L1162.9 453.2 L1163.3 453.3 L1163.6 452.9 L1163.9 453.3 L1164.2 453.5 L1164.5 453 L1164.8 452.6 L1165.1 452.3 L1165.4 452.7 L1165.7 453.3 L1166 453.2 L1166.4 453 L1166.7 453.1 L1167 453.3 L1167.3 453.4 L1167.6 453.4 L1167.9 453.3 L1168.2 453.3 L1168.5 453.2 L1168.7 453.1 L1169 453.3 L1169.3 453.4 L1169.6 453 L1169.9 452.7 L1170.2 453.2 L1170.5 453.4"/>
<path class="cv" stroke-width="1.75" stroke-dasharray="1.65 2.7" d="M787 299 L819.4 291.5 L841.6 294.2 L856.8 294.2 L872 293.5 L884.2 291.5 L895.3 302.7 L904.4 284.4 L912.5 286.1 L919.6 294.6 L932.8 279 L938.7 290.2 L944 278 L948.4 264.2 L953.8 282.6 L962.5 267.4 L973.3 260.9 L984.1 241.4 L990 228 L997.1 213.3 L1001.4 228.5 L1009 212 L1016.6 196 L1021 213 L1022.9 196.1 L1024.8 201.9 L1026.6 196 L1028.4 198 L1030.1 182.8 L1031.9 194.4 L1033.5 192.5 L1035.2 192.8 L1036.8 188.6 L1038.4 201.7 L1039.9 186.4 L1041.5 184.4 L1042.9 183.7 L1044.4 194.1 L1045.8 196.9 L1047.2 194 L1048.6 185.6 L1050 187.7 L1051.3 186.1 L1052.6 194 L1053.9 200.4 L1055.2 191 L1056.5 190.6 L1057.7 194.7 L1058.9 191.4 L1060.1 198.4 L1061.3 193.7 L1062.4 190.5 L1063.6 201.5 L1064.7 187.3 L1065.8 195.2 L1066.9 196 L1068 197.5 L1069 196.6 L1070.1 190.6 L1071.1 201.8 L1072.1 197.8 L1073.1 202.8 L1074.1 199.2 L1075.1 202.7 L1076.1 203.2 L1077.1 200.7 L1078 208.6 L1078.9 208.7 L1079.9 201.6 L1080.8 203.4 L1081.7 208.3 L1082.6 205.9 L1083.5 206.9 L1084.3 207.5 L1085.2 210.9 L1086 214.3 L1086.9 213.1 L1087.7 204.8 L1088.6 218.7 L1089.4 205.8 L1090.2 213.1 L1091 216.8 L1091.8 212.9 L1092.6 215.8 L1093.3 217.5 L1094.1 218.4 L1094.9 216.3 L1095.6 214.4 L1096.4 221.4 L1097.1 218 L1097.9 216.8 L1098.6 221.2 L1099.3 219.4 L1100 222 L1100.7 224.9 L1101.4 219 L1102.1 221.2 L1102.8 225.5 L1103.5 225.8 L1104.2 220.7 L1104.8 226.1 L1105.5 226.6 L1106.2 227.8 L1106.8 228.2 L1107.5 225.5 L1108.1 226.6 L1108.8 231.5 L1109.4 225.9 L1110 231.1 L1110.6 228.5 L1111.3 233.1 L1111.9 230.2 L1112.5 231.2 L1113.1 231.9 L1113.7 234 L1114.3 234.2 L1114.9 234.1 L1115.4 235.2 L1116 232.5 L1116.6 236.9 L1117.2 235.2 L1117.7 236.2 L1118.3 237.3 L1118.9 236.9 L1119.4 236 L1120 238.8 L1120.5 235.2 L1121.1 237.1 L1121.6 239.8 L1122.2 239.4 L1122.7 240.9 L1123.2 241 L1123.7 239.9 L1124.3 238.9 L1124.8 241.9 L1125.3 243.2 L1125.8 241.3 L1126.3 243.9 L1126.8 242.8 L1127.3 244.6 L1127.8 243.5 L1128.3 244.4 L1128.8 243 L1129.3 242.7 L1129.8 243.6 L1130.3 245.8 L1130.8 244.3 L1131.2 245.6 L1131.7 244.5 L1132.2 246.1 L1132.7 246 L1133.1 247.1 L1133.6 246.4 L1134 247.1 L1134.5 245.7 L1135 246.3 L1135.4 246.6 L1135.9 247.6 L1136.3 247 L1136.8 249 L1137.2 248 L1137.6 247.7 L1138.1 248 L1138.5 246.7 L1138.9 247.9 L1139.4 248.9 L1139.8 249 L1140.2 250.5 L1140.7 251.5 L1141.1 251.1 L1141.5 251.3 L1141.9 250.9 L1142.3 251.3 L1142.7 251.6 L1143.2 250.9 L1143.6 251.3 L1144 252 L1144.4 252.2 L1144.8 252 L1145.2 253.3 L1145.6 254 L1146 252.9 L1146.4 253.5 L1146.8 253 L1147.1 253 L1147.5 253.5 L1147.9 254.3 L1148.3 254.4 L1148.7 253.8 L1149.1 253.5 L1149.4 253.6 L1149.8 255.2 L1150.2 255.4 L1150.6 255 L1150.9 255.4 L1151.3 255.2 L1151.7 255.8 L1152 255.7 L1152.4 254.8 L1152.8 254.8 L1153.1 255.7 L1153.5 255.8 L1153.8 256.8 L1154.2 257.9 L1154.6 258 L1154.9 256.7 L1155.3 255.8 L1155.6 256.7 L1156 257.7 L1156.3 257.9 L1156.6 258.3 L1157 258.2 L1157.3 257.4 L1157.7 257.7 L1158 258.2 L1158.4 258.8 L1158.7 258.7 L1159 258.4 L1159.4 258.5 L1159.7 258.7 L1160 258.4 L1160.3 258.6 L1160.7 259.1 L1161 258.9 L1161.3 259 L1161.7 259.4 L1162 259.7 L1162.3 260.2 L1162.6 260.4 L1162.9 260.4 L1163.3 260.8 L1163.6 261.2 L1163.9 261 L1164.2 260.8 L1164.5 261.3 L1164.8 261.3 L1165.1 261.2 L1165.4 261.6 L1165.7 261.9 L1166 261.9 L1166.4 261.5 L1166.7 261.4 L1167 261.7 L1167.3 261.6 L1167.6 261.3 L1167.9 261.7 L1168.2 262.4 L1168.5 263.2 L1168.7 263.6 L1169 263.3 L1169.3 263.1 L1169.6 263.3 L1169.9 263.6 L1170.2 264 L1170.5 264.2"/>
<path class="cv" stroke-width="1.85" stroke-dasharray="10 5.5" d="M755 502.4 L786 496.9 L809.2 483.2 L826.5 499 L839.6 498.4 L852.8 508.9 L870 508.1 L881.1 533.8 L887.2 521.6 L898.4 530.8 L907.5 527.7 L916.6 541.3 L922.7 538.9 L929.7 561.1 L934.8 575.3 L942.9 572.3 L947 583.4 L949.3 589.1 L952.5 591.2 L955.6 585.1 L958.5 593 L961.4 582.6 L964.1 593.9 L966.8 612.9 L969.3 602.8 L971.8 609 L974.2 615.2 L976.5 622.7 L978.8 625.3 L981 613.4 L983.2 620.6 L985.2 631.6 L987.3 634 L989.2 619.5 L991.2 634.1 L993.1 627.2 L994.9 630.6 L996.7 633.1 L998.5 635.6 L1000.2 631.6 L1001.9 632.3 L1003.5 644.9 L1005.1 626.8 L1006.7 647.3 L1008.2 636.5 L1009.8 634.3 L1011.2 635.4 L1012.7 644.8 L1014.1 640.6 L1015.5 630.2 L1016.9 638.7 L1018.3 641.6 L1019.6 643 L1020.9 646.9 L1022.2 633.2 L1023.5 648.8 L1024.8 644.7 L1026 639.4 L1027.2 642.4 L1028.4 638.1 L1029.6 647.6 L1030.7 636 L1031.9 642.8 L1033 640 L1034.1 631.7 L1035.2 633.9 L1036.3 632.4 L1037.3 638.2 L1038.4 637.2 L1039.4 645.1 L1040.4 622.6 L1041.5 626.5 L1042.4 638.6 L1043.4 634 L1044.4 618.4 L1045.4 637.7 L1046.3 630.4 L1047.2 623 L1048.2 614.4 L1049.1 625.5 L1050 620.9 L1050.9 617.5 L1051.8 627.7 L1052.6 618.1 L1053.5 621.1 L1054.4 619.7 L1055.2 617.8 L1056 621.3 L1056.9 611.8 L1057.7 608.3 L1058.5 612.6 L1059.3 608 L1060.1 608.6 L1060.9 614.2 L1061.7 608.6 L1062.4 613.3 L1063.2 602.2 L1063.9 604.8 L1064.7 600.1 L1065.4 596.2 L1066.2 604.6 L1066.9 602.1 L1067.6 596.9 L1068.3 600.2 L1069 592.9 L1069.7 599.1 L1070.4 594.6 L1071.1 594.7 L1071.8 601 L1072.5 585.3 L1073.1 588.3 L1073.8 594.5 L1074.5 589.1 L1075.1 596.5 L1075.8 590.7 L1076.4 589.5 L1077.1 588 L1077.7 583.1 L1078.3 587.8 L1078.9 585.4 L1079.6 583.6 L1080.2 580.4 L1080.8 582.9 L1081.4 580.1 L1082 577.7 L1082.6 582.1 L1083.2 582.9 L1083.8 575.5 L1084.3 572.7 L1084.9 577.8 L1085.5 571.6 L1086 573.1 L1086.6 568.1 L1087.2 570.1 L1087.7 567.8 L1088.3 568.1 L1088.8 569.8 L1089.4 569.3 L1089.9 561.4 L1090.5 567.2 L1091 563.2 L1091.5 563.5 L1092 558 L1092.6 564.2 L1093.1 563 L1093.6 559.3 L1094.1 558.5 L1094.6 556.1 L1095.1 556.6 L1095.6 557 L1096.1 552.2 L1096.6 554.4 L1097.1 554.9 L1097.6 553.3 L1098.1 554.8 L1098.6 554.6 L1099.1 553.8 L1099.5 552.4 L1100 549.7 L1100.5 550.5 L1101 548.3 L1101.4 548.8 L1101.9 546.8 L1102.4 545.9 L1102.8 544.7 L1103.3 543.9 L1103.7 542.1 L1104.2 545 L1104.6 543.7 L1105.1 543.4 L1105.5 542.8 L1105.9 542.4 L1106.4 538.5 L1106.8 539.1 L1107.3 539.5 L1107.7 539.9 L1108.1 539.1 L1108.5 541.7 L1109 538.8 L1109.4 536.9 L1109.8 538.5 L1110.2 535.6 L1110.6 535.2 L1111 536.6 L1111.5 536.5 L1111.9 533.9 L1112.3 531.8 L1112.7 533.4 L1113.1 534.5 L1113.5 533.2 L1113.9 532.7 L1114.3 533.2 L1114.7 530.8 L1115.1 530.2 L1115.4 531.9 L1115.8 531.3 L1116.2 529.2 L1116.6 528.7 L1117 529.8 L1117.4 527.5 L1117.7 526.9 L1118.1 527.5 L1118.5 526.5 L1118.9 526 L1119.2 525.6 L1119.6 525.1 L1120 524.1 L1120.3 525.2 L1120.7 525.6 L1121.1 524 L1121.4 523.7 L1121.8 523.9 L1122.2 523.1 L1122.5 522.9 L1122.9 523 L1123.2 523.2 L1123.6 522.9 L1123.9 522.1 L1124.3 521.4 L1124.6 521.9 L1125 520.1 L1125.3 519.2 L1125.6 519.4 L1126 518.2 L1126.3 517.5 L1126.7 517.5 L1127 517.9 L1127.3 518.5 L1127.7 519 L1128 518.6 L1128.3 518.2 L1128.7 518.2 L1129 518 L1129.3 517.1 L1129.6 514.9 L1130 515 L1130.3 517.1 L1130.6 517.4 L1130.9 515 L1131.2 513.5 L1131.6 513.7 L1131.9 514.4 L1132.2 514.5 L1132.5 513.9 L1132.8 513.4 L1133.1 512.8 L1133.4 512.7 L1133.7 512.3 L1134 512 L1134.4 511.5 L1134.7 511.3 L1135 512.6 L1135.3 513.7 L1135.6 512.8 L1135.9 511.7 L1136.2 511.5 L1136.5 511.7 L1136.8 511.5 L1137.1 511.3 L1137.3 511.3 L1137.6 510.4 L1137.9 509.8 L1138.2 510.1 L1138.5 509.7 L1138.8 509.1 L1139.1 508.9 L1139.4 508.5 L1139.7 508.2 L1139.9 508.7 L1140.2 509.1 L1140.5 508.1 L1140.8 507.2 L1141.1 507.5 L1141.4 508 L1141.6 508.2 L1141.9 507.7 L1142.2 506.7 L1142.5 505.7 L1142.7 505.7 L1143 506.5 L1143.3 507 L1143.6 506.9 L1143.8 506.3 L1144.1 505.7 L1144.4 504.9 L1144.6 504.8 L1144.9 505.8 L1145.2 506.5 L1145.4 505.9 L1145.7 504.7 L1146 504.2 L1146.2 504.5 L1146.5 504.8 L1146.8 504.6 L1147 504.3 L1147.3 504.4 L1147.5 504.8 L1147.8 504.5 L1148 504.2 L1148.3 504.5 L1148.6 504.9 L1148.8 504.1 L1149.1 503.1 L1149.3 502.9 L1149.6 503.3 L1149.8 503.3 L1150.1 502.9 L1150.3 502.7 L1150.6 502.5 L1150.8 502.1 L1151.1 502 L1151.3 502.2 L1151.6 502.1 L1151.8 502.1 L1152 502.6 L1152.3 502.7 L1152.5 502.3 L1152.8 501.9 L1153 501.5 L1153.2 501.1 L1153.5 501 L1153.7 500.9 L1154 501.1 L1154.2 501.5 L1154.4 501.6 L1154.7 501.1 L1154.9 500.8 L1155.1 500.7 L1155.4 500.7 L1155.6 500.5 L1155.8 500.3 L1156.1 500.4 L1156.3 500.4 L1156.5 500.4 L1156.8 500.5 L1157 500.6"/>
<path class="cv" stroke-width="1.85" stroke-dasharray="10 5.5" d="M755 114.2 L786 251.5 L809.2 210 L826.5 195.8 L839.6 211 L852.8 182.7 L863.9 201.9 L872 148.2 L882.2 128.4 L889.2 117.2 L898.4 133.4 L905.1 123.4 L912.5 107.1 L915.6 119.2 L922.2 85.6 L929.4 111 L935.4 101.9 L938.9 117.2 L942.5 108 L946 116.2 L948 115.8 L951.8 104.5 L955.6 124.7 L960.7 107 L965 100 L970.8 86.8 L973.9 55.8 L977.1 71.6 L978.4 90.6 L983 105 L987.2 122.8 L991 98.1 L995 105 L996.7 91.5 L998.5 101.9 L1000.2 102.4 L1001.9 88.9 L1003.5 104.5 L1005.1 90.4 L1006.7 85.4 L1008.2 96.9 L1009.8 88.6 L1011.2 93.6 L1012.7 95.7 L1014.1 91 L1015.5 77.8 L1016.9 88.3 L1018.3 83.7 L1019.6 92.7 L1020.9 91.5 L1022.2 89.1 L1023.5 88.9 L1024.8 90.4 L1026 88.8 L1027.2 91.6 L1028.4 74.3 L1029.6 94 L1030.7 85.1 L1031.9 94.4 L1033 93.7 L1034.1 85.5 L1035.2 82.2 L1036.3 83.5 L1037.3 90.2 L1038.4 87.6 L1039.4 90.3 L1040.4 86.6 L1041.5 78.9 L1042.4 89.7 L1043.4 86.8 L1044.4 85.2 L1045.4 89.6 L1046.3 82.5 L1047.2 89.8 L1048.2 80.5 L1049.1 93.4 L1050 78.4 L1050.9 84.5 L1051.8 88.1 L1052.6 85.4 L1053.5 94.1 L1054.4 79.4 L1055.2 91.1 L1056 92.9 L1056.9 84.3 L1057.7 81.2 L1058.5 92.6 L1059.3 78.9 L1060.1 86.5 L1060.9 85.7 L1061.7 89.1 L1062.4 86.3 L1063.2 88.6 L1063.9 87 L1064.7 96.4 L1065.4 85.9 L1066.2 91.2 L1066.9 90.4 L1067.6 87.7 L1068.3 91 L1069 92 L1069.7 95.6 L1070.4 87 L1071.1 94.8 L1071.8 89.6 L1072.5 91.5 L1073.1 98.4 L1073.8 88.1 L1074.5 90.6 L1075.1 96 L1075.8 95.2 L1076.4 92.1 L1077.1 92.5 L1077.7 90.6 L1078.3 101 L1078.9 88.2 L1079.6 93.8 L1080.2 100.2 L1080.8 94 L1081.4 94.1 L1082 98.1 L1082.6 93.4 L1083.2 91.2 L1083.8 101.3 L1084.3 99.9 L1084.9 92.8 L1085.5 97.2 L1086 98.8 L1086.6 102.6 L1087.2 98.7 L1087.7 99.6 L1088.3 100.4 L1088.8 101.3 L1089.4 100 L1089.9 103.2 L1090.5 104 L1091 102.4 L1091.5 100.3 L1092 100.4 L1092.6 103.9 L1093.1 104.3 L1093.6 105.1 L1094.1 101.4 L1094.6 108.4 L1095.1 107 L1095.6 108.3 L1096.1 105.3 L1096.6 108.8 L1097.1 106.9 L1097.6 106.7 L1098.1 111.3 L1098.6 112.8 L1099.1 111.4 L1099.5 110.5 L1100 110.6 L1100.5 107.5 L1101 111.4 L1101.4 114.5 L1101.9 114.6 L1102.4 115.1 L1102.8 114.5 L1103.3 113.5 L1103.7 113.6 L1104.2 114.5 L1104.6 115.3 L1105.1 114.6 L1105.5 115.1 L1105.9 116.8 L1106.4 114.7 L1106.8 116.2 L1107.3 118.6 L1107.7 117.4 L1108.1 115.6 L1108.5 117.7 L1109 116.9 L1109.4 117.7 L1109.8 119.6 L1110.2 118.7 L1110.6 121.3 L1111 120.5 L1111.5 119.1 L1111.9 120.1 L1112.3 119.9 L1112.7 123.5 L1113.1 124.2 L1113.5 124.3 L1113.9 122.7 L1114.3 124.6 L1114.7 125.1 L1115.1 125 L1115.4 125.8 L1115.8 126 L1116.2 126 L1116.6 127.1 L1117 127.4 L1117.4 127.3 L1117.7 127.6 L1118.1 128 L1118.5 126.6 L1118.9 127.9 L1119.2 129 L1119.6 128.9 L1120 128.4 L1120.3 129.1 L1120.7 129.9 L1121.1 129 L1121.4 129.1 L1121.8 129.6 L1122.2 130.7 L1122.5 131.4 L1122.9 131.4 L1123.2 131.6 L1123.6 132.4 L1123.9 132.4 L1124.3 132.3 L1124.6 133.8 L1125 134.1 L1125.3 133.4 L1125.6 133.3 L1126 134.4 L1126.3 134.8 L1126.7 134.8 L1127 135.2 L1127.3 135.5 L1127.7 135.8 L1128 136.9 L1128.3 137.2 L1128.7 136.3 L1129 136.6 L1129.3 137.7 L1129.6 138.7 L1130 138.8 L1130.3 138.1 L1130.6 138 L1130.9 138.7 L1131.2 139.7 L1131.6 139.9 L1131.9 139.7 L1132.2 140.4 L1132.5 141.1 L1132.8 141.3 L1133.1 141 L1133.4 140.8 L1133.7 141 L1134 141.8 L1134.4 142.3 L1134.7 142.4 L1135 142.7 L1135.3 143.3 L1135.6 143.8 L1135.9 143.8 L1136.2 143.8 L1136.5 144.1 L1136.8 144.5 L1137.1 144.4 L1137.3 144.6 L1137.6 145.4 L1137.9 145.8 L1138.2 145.7 L1138.5 145.5 L1138.8 145.9 L1139.1 145.9 L1139.4 145.9 L1139.7 146.7 L1139.9 147.6 L1140.2 147.7 L1140.5 147.1 L1140.8 146.9 L1141.1 147.7 L1141.4 148.5 L1141.6 148.4 L1141.9 148 L1142.2 147.7 L1142.5 147.7 L1142.7 148.2 L1143 148.9 L1143.3 149.6 L1143.6 150 L1143.8 150.3 L1144.1 150.9 L1144.4 151 L1144.6 151 L1144.9 151.3 L1145.2 151.1 L1145.4 151 L1145.7 151.3 L1146 151.7 L1146.2 152.3 L1146.5 152.4 L1146.8 152.1 L1147 152.2 L1147.3 152.9 L1147.5 153.5 L1147.8 153.8 L1148 153.7 L1148.3 153.5 L1148.6 153.6 L1148.8 154.1 L1149.1 154.6 L1149.3 154.9 L1149.6 154.9 L1149.8 154.9 L1150.1 155.1 L1150.3 155.4 L1150.6 155.5 L1150.8 155.5 L1151.1 155.7 L1151.3 156.3 L1151.6 156.8 L1151.8 156.6 L1152 155.9 L1152.3 155.8 L1152.5 156.3 L1152.8 156.8 L1153 157.1 L1153.2 157.3 L1153.5 157.5 L1153.7 157.7 L1154 157.8 L1154.2 158 L1154.4 158.4 L1154.7 158.9 L1154.9 159.2 L1155.1 159.5 L1155.4 159.7 L1155.6 159.9 L1155.8 160 L1156.1 160.1 L1156.3 160.1"/>
<path class="cv" stroke-width="1.85" stroke-dasharray="10 5.5" d="M755 426.8 L786 439.4 L809.2 451.1 L826.5 435.3 L839.6 432.3 L852.8 418.1 L863.9 406.6 L874 408 L881.1 389.7 L900.4 389.7 L914.6 384.7 L922.7 368.5 L928.7 358.4 L932.8 363.4 L935.8 345.2 L940.9 354.3 L950 348.2 L952.5 352.6 L955.6 360 L958.5 333.2 L961.4 350.3 L964.1 355.6 L966.8 340.8 L969.3 351.9 L971.8 361.6 L974.2 336.8 L976.5 337.9 L978.8 346.8 L981 343 L983.2 354.6 L985.2 346.7 L987.3 357.7 L989.2 346.1 L991.2 344.4 L993.1 359.9 L994.9 356 L996.7 351.9 L998.5 356.4 L1000.2 357.2 L1001.9 357 L1003.5 349.9 L1005.1 369.5 L1006.7 354.8 L1008.2 372.3 L1009.8 368.7 L1011.2 362.5 L1012.7 379.8 L1014.1 368.8 L1015.5 362.1 L1016.9 368.8 L1018.3 375.4 L1019.6 370.7 L1020.9 374 L1022.2 366.5 L1023.5 379.8 L1024.8 374.7 L1026 385.6 L1027.2 369.1 L1028.4 381 L1029.6 381.6 L1030.7 376.7 L1031.9 390.9 L1033 378.2 L1034.1 393.1 L1035.2 383.9 L1036.3 384.8 L1037.3 381.6 L1038.4 395.2 L1039.4 382.4 L1040.4 395 L1041.5 385.5 L1042.4 390.4 L1043.4 391.8 L1044.4 398.3 L1045.4 389.2 L1046.3 399.7 L1047.2 398.2 L1048.2 398.4 L1049.1 398.5 L1050 407.4 L1050.9 400.1 L1051.8 391.9 L1052.6 395.5 L1053.5 396.6 L1054.4 404.6 L1055.2 410.3 L1056 401.8 L1056.9 403.5 L1057.7 406 L1058.5 408.4 L1059.3 409.2 L1060.1 409.6 L1060.9 414.1 L1061.7 407.8 L1062.4 414.2 L1063.2 408.5 L1063.9 404.1 L1064.7 413.2 L1065.4 411.4 L1066.2 412.9 L1066.9 408.3 L1067.6 415.8 L1068.3 417.6 L1069 418.3 L1069.7 418.3 L1070.4 414.2 L1071.1 413.9 L1071.8 423.4 L1072.5 417.3 L1073.1 425.8 L1073.8 412.3 L1074.5 424.4 L1075.1 421.3 L1075.8 420.8 L1076.4 424.3 L1077.1 420.5 L1077.7 421.1 L1078.3 420.9 L1078.9 420.1 L1079.6 434.2 L1080.2 423.4 L1080.8 423.8 L1081.4 425.4 L1082 423.5 L1082.6 424.2 L1083.2 428.1 L1083.8 425 L1084.3 424.1 L1084.9 431.7 L1085.5 428.7 L1086 427.7 L1086.6 431.1 L1087.2 427 L1087.7 431.8 L1088.3 429.5 L1088.8 427.3 L1089.4 432.1 L1089.9 434.3 L1090.5 431.3 L1091 431.7 L1091.5 432.3 L1092 434.8 L1092.6 430.9 L1093.1 437.4 L1093.6 429.7 L1094.1 431.5 L1094.6 434.5 L1095.1 434.8 L1095.6 433.4 L1096.1 428.5 L1096.6 434.3 L1097.1 438.3 L1097.6 434.9 L1098.1 436.3 L1098.6 437.5 L1099.1 434.1 L1099.5 436.2 L1100 435.1 L1100.5 433.6 L1101 437.9 L1101.4 438.4 L1101.9 438.8 L1102.4 439.4 L1102.8 438.8 L1103.3 436.3 L1103.7 435.7 L1104.2 437.1 L1104.6 437.3 L1105.1 437.8 L1105.5 438.4 L1105.9 440.6 L1106.4 438.6 L1106.8 437.5 L1107.3 440.4 L1107.7 442.4 L1108.1 439.9 L1108.5 440.6 L1109 442.9 L1109.4 440.2 L1109.8 438.8 L1110.2 439.1 L1110.6 441.6 L1111 441.9 L1111.5 439.8 L1111.9 440 L1112.3 443.6 L1112.7 444.4 L1113.1 444.4 L1113.5 443.5 L1113.9 444 L1114.3 444.4 L1114.7 445.3 L1115.1 444.8 L1115.4 444.5 L1115.8 444.2 L1116.2 443.8 L1116.6 444.1 L1117 445 L1117.4 445.4 L1117.7 444.1 L1118.1 445.3 L1118.5 446.1 L1118.9 445 L1119.2 446.1 L1119.6 447.2 L1120 447.1 L1120.3 447.2 L1120.7 447 L1121.1 447.4 L1121.4 447.1 L1121.8 447 L1122.2 447.4 L1122.5 446.9 L1122.9 446.1 L1123.2 446 L1123.6 446.7 L1123.9 446.6 L1124.3 447.2 L1124.6 446.7 L1125 446.6 L1125.3 447.6 L1125.6 447.7 L1126 447.3 L1126.3 448.6 L1126.7 450.3 L1127 448.8 L1127.3 447.3 L1127.7 448.6 L1128 449.7 L1128.3 449.4 L1128.7 448.5 L1129 448.2 L1129.3 449.6 L1129.6 451 L1130 450.9 L1130.3 450.4 L1130.6 450.7 L1130.9 450.7 L1131.2 449.8 L1131.6 449.1 L1131.9 449.6 L1132.2 450.1 L1132.5 449.9 L1132.8 450.3 L1133.1 450.5 L1133.4 450.9 L1133.7 451.4 L1134 451 L1134.4 450 L1134.7 450.3 L1135 451.2 L1135.3 451.4 L1135.6 450.9 L1135.9 450.5 L1136.2 450.6 L1136.5 451 L1136.8 451.2 L1137.1 450.9 L1137.3 450.8 L1137.6 450.9 L1137.9 451.6 L1138.2 452.3 L1138.5 452.7 L1138.8 452.5 L1139.1 452.1 L1139.4 451.9 L1139.7 451.9 L1139.9 451.9 L1140.2 451.8 L1140.5 452 L1140.8 451.9 L1141.1 452.1 L1141.4 452.8 L1141.6 453 L1141.9 452.3 L1142.2 451.8 L1142.5 452.3 L1142.7 452.7 L1143 453.1 L1143.3 453.3 L1143.6 453.1 L1143.8 453 L1144.1 452.9 L1144.4 452.5 L1144.6 452.5 L1144.9 453.1 L1145.2 453.8 L1145.4 453.5 L1145.7 452.9 L1146 452.8 L1146.2 453.2 L1146.5 453.7"/>
<path class="cv" stroke-width="1.85" stroke-dasharray="10 5.5" d="M755 294.6 L786 287.5 L809.2 287.9 L826.5 287.9 L839.6 293.5 L852.8 296.2 L863.9 309.7 L872 303.7 L882.2 300.6 L889.2 310.8 L898.4 302.7 L907.5 313.8 L912.5 301.6 L916.6 298.6 L922.7 314.8 L929.7 293.5 L934.8 302.7 L940.9 298.6 L946 300.6 L950 292.5 L952.5 294.4 L955.6 283 L958.5 287.2 L961.4 277.7 L964.1 272.9 L966.8 275.7 L969.3 266.9 L971.8 269 L974.2 266.4 L976.5 254 L978.8 261.6 L981 250.6 L983.2 249.3 L985.2 244.7 L987.3 243.8 L989.2 240.6 L991.2 252 L993.1 236.1 L994.9 226 L996.7 238.7 L998.5 228.9 L1000.2 232.7 L1001.9 218.9 L1003.5 235.8 L1005.1 224.7 L1006.7 221 L1008.2 219.9 L1009.8 214.2 L1011.2 206.3 L1012.7 216 L1014.1 206.7 L1015.5 212.3 L1016.9 204.8 L1018.3 210.9 L1019.6 201.2 L1020.9 210 L1022.2 191.2 L1023.5 198 L1024.8 204.8 L1026 199.1 L1027.2 203.3 L1028.4 199.7 L1029.6 195.3 L1030.7 203.2 L1031.9 191.9 L1033 206.6 L1034.1 201.7 L1035.2 191.6 L1036.3 202 L1037.3 192.1 L1038.4 196.8 L1039.4 193.4 L1040.4 201.3 L1041.5 191.9 L1042.4 198.7 L1043.4 192.6 L1044.4 188.8 L1045.4 191 L1046.3 194.9 L1047.2 201.8 L1048.2 194.8 L1049.1 192.9 L1050 198.2 L1050.9 195.4 L1051.8 193 L1052.6 191.3 L1053.5 196.8 L1054.4 200.4 L1055.2 192.1 L1056 196.8 L1056.9 201.8 L1057.7 200.8 L1058.5 201.5 L1059.3 190.4 L1060.1 208.5 L1060.9 197.2 L1061.7 201.8 L1062.4 201.9 L1063.2 200.6 L1063.9 199.5 L1064.7 197.4 L1065.4 207.6 L1066.2 203.4 L1066.9 204 L1067.6 204.2 L1068.3 203.9 L1069 208.2 L1069.7 204.3 L1070.4 206.3 L1071.1 204.9 L1071.8 206.9 L1072.5 213.9 L1073.1 209.3 L1073.8 205.4 L1074.5 203.8 L1075.1 214 L1075.8 202 L1076.4 209.7 L1077.1 209.1 L1077.7 205.1 L1078.3 215.3 L1078.9 212.6 L1079.6 210 L1080.2 213.3 L1080.8 211 L1081.4 215.4 L1082 211.4 L1082.6 216.7 L1083.2 211.2 L1083.8 223.2 L1084.3 214.4 L1084.9 219.7 L1085.5 217.6 L1086 214.9 L1086.6 219.7 L1087.2 222.1 L1087.7 215.1 L1088.3 218.7 L1088.8 225.2 L1089.4 217.9 L1089.9 221.8 L1090.5 227.9 L1091 221.2 L1091.5 215.8 L1092 225.9 L1092.6 223.7 L1093.1 223.1 L1093.6 225.2 L1094.1 230.9 L1094.6 221.6 L1095.1 230.6 L1095.6 225.4 L1096.1 226 L1096.6 228.3 L1097.1 229.1 L1097.6 230.9 L1098.1 228.8 L1098.6 230.8 L1099.1 230.5 L1099.5 230.4 L1100 228.5 L1100.5 229.2 L1101 230 L1101.4 229.3 L1101.9 230.9 L1102.4 229.8 L1102.8 233.6 L1103.3 233.9 L1103.7 231.6 L1104.2 231.7 L1104.6 235.7 L1105.1 236.9 L1105.5 236 L1105.9 236.9 L1106.4 238.3 L1106.8 236.8 L1107.3 235.2 L1107.7 237.1 L1108.1 238.2 L1108.5 237.5 L1109 238.7 L1109.4 238.9 L1109.8 238.1 L1110.2 241.4 L1110.6 241.5 L1111 240.2 L1111.5 240.6 L1111.9 239.1 L1112.3 239 L1112.7 242.2 L1113.1 244 L1113.5 243.9 L1113.9 243.9 L1114.3 244.8 L1114.7 245.1 L1115.1 246.8 L1115.4 246.3 L1115.8 245.4 L1116.2 244.3 L1116.6 243.7 L1117 244.7 L1117.4 243.9 L1117.7 245.6 L1118.1 247.2 L1118.5 248.3 L1118.9 247.7 L1119.2 245.1 L1119.6 244.9 L1120 247.8 L1120.3 249 L1120.7 249.5 L1121.1 249.7 L1121.4 250.2 L1121.8 249.7 L1122.2 249.7 L1122.5 251 L1122.9 250.2 L1123.2 249.7 L1123.6 250.8 L1123.9 251.9 L1124.3 252.7 L1124.6 251.6 L1125 250.8 L1125.3 252.1 L1125.6 252.6 L1126 252.8 L1126.3 253.6 L1126.7 253.2 L1127 252.8 L1127.3 253.4 L1127.7 254.1 L1128 254 L1128.3 254.2 L1128.7 254.5 L1129 255.6 L1129.3 255.9 L1129.6 255.6 L1130 255.9 L1130.3 255.6 L1130.6 255.4 L1130.9 256.1 L1131.2 256.1 L1131.6 255.7 L1131.9 255.9 L1132.2 256.4 L1132.5 256.4 L1132.8 256.2 L1133.1 257.1 L1133.4 257.8 L1133.7 258 L1134 257.9 L1134.4 258.4 L1134.7 258.4 L1135 257.9 L1135.3 258.5 L1135.6 259.8 L1135.9 259.4 L1136.2 258.8 L1136.5 259.8 L1136.8 260.9 L1137.1 260.9 L1137.3 260.2 L1137.6 259.3 L1137.9 259.6 L1138.2 260.4 L1138.5 260.4 L1138.8 260.7 L1139.1 260.4 L1139.4 259.9 L1139.7 260.5 L1139.9 261.2 L1140.2 260.7 L1140.5 260.4 L1140.8 261.1 L1141.1 262 L1141.4 262.8 L1141.6 262.9 L1141.9 261.8 L1142.2 260.5 L1142.5 260.3 L1142.7 260.9 L1143 261.5 L1143.3 261.8 L1143.6 262.3 L1143.8 263 L1144.1 263.2 L1144.4 263.1 L1144.6 263.6 L1144.9 264.5 L1145.2 264.6 L1145.4 264 L1145.7 263.5 L1146 263.5 L1146.2 263.7 L1146.5 263.6 L1146.8 263.3 L1147 263.2 L1147.3 263.8 L1147.5 263.9 L1147.8 263.2 L1148 263.2 L1148.3 264.2 L1148.6 264.9 L1148.8 264.4 L1149.1 263.9 L1149.3 264.2 L1149.6 264.7 L1149.8 264.8 L1150.1 264.9 L1150.3 264.9 L1150.6 265.1 L1150.8 265.1 L1151.1 265.2 L1151.3 265.4 L1151.6 265.3 L1151.8 265 L1152 265 L1152.3 265.4 L1152.5 265.8 L1152.8 265.8 L1153 265.7 L1153.2 265.9 L1153.5 266.2 L1153.7 265.8 L1154 265.1 L1154.2 265 L1154.4 265.6 L1154.7 266.5 L1154.9 266.9 L1155.1 266.6"/>
<path class="cv" stroke-width="1.85" d="M737.3 503 L768.7 497.3 L791.6 484.2 L809.2 498.8 L823.4 497.7 L835.6 505.8 L845.7 501.4 L854.8 502.8 L862.9 522 L872 508.5 L883.2 520 L889.8 516.2 L894.7 520.6 L899.4 518.2 L904.4 523.1 L909.5 537.8 L920.6 552.4 L926.7 550.6 L931.8 568.2 L934.8 555.5 L937.8 570.3 L940.9 564.8 L946 591.5 L949 577.3 L950.6 578.8 L953.1 586.4 L955.6 588.6 L958 587.6 L960.4 592.3 L962.6 598.5 L964.8 595.3 L967 611.6 L969.1 597.4 L971.1 610.9 L973.1 609.7 L975 620.1 L976.9 619.8 L978.7 619.8 L980.5 610.4 L982.3 626.9 L984 625.4 L985.7 614.8 L987.3 638.1 L988.9 620.6 L990.5 635.8 L992.1 630.3 L993.6 631.1 L995.1 623.9 L996.5 636.8 L998 623.2 L999.4 640.5 L1000.7 640.2 L1002.1 634.6 L1003.4 634.7 L1004.8 638.7 L1006.1 630.4 L1007.3 637.5 L1008.6 633.7 L1009.8 642.3 L1011 628.2 L1012.2 650.2 L1013.4 635.3 L1014.5 631.3 L1015.7 644.6 L1016.8 643.2 L1017.9 639.1 L1019 636.5 L1020.1 635.9 L1021.2 645.6 L1022.2 641.9 L1023.2 630.9 L1024.3 639.3 L1025.3 633.4 L1026.3 637.1 L1027.2 636.1 L1028.2 642.5 L1029.2 636 L1030.1 642.6 L1031.1 650.3 L1032 631.9 L1032.9 641.6 L1033.8 640.7 L1034.7 639.9 L1035.6 630.9 L1036.5 628.4 L1037.3 631.7 L1038.2 639.6 L1039 631.8 L1039.9 633 L1040.7 637.3 L1041.5 624.3 L1042.3 634.6 L1043.1 625.2 L1043.9 622.5 L1044.7 629.2 L1045.5 624.1 L1046.2 634 L1047 617.2 L1047.8 621.5 L1048.5 627 L1049.2 610.2 L1050 618.1 L1050.7 616.7 L1051.4 623.9 L1052.1 617.6 L1052.8 613.1 L1053.5 611 L1054.2 609.9 L1054.9 614.4 L1055.6 612 L1056.3 612.6 L1057 603.6 L1057.6 614.3 L1058.3 599.8 L1058.9 608.4 L1059.6 606.9 L1060.2 603.3 L1060.9 608.4 L1061.5 603.5 L1062.1 607.2 L1062.8 590.1 L1063.4 609.6 L1064 594.1 L1064.6 597.8 L1065.2 598.6 L1065.8 598.7 L1066.4 592.3 L1067 590.5 L1067.6 595.4 L1068.1 593.6 L1068.7 600.4 L1069.3 585.5 L1069.9 585.4 L1070.4 592.5 L1071 582 L1071.5 590.8 L1072.1 586.4 L1072.6 582.7 L1073.2 592.4 L1073.7 586 L1074.3 587.1 L1074.8 574.2 L1075.3 587.9 L1075.9 580.8 L1076.4 581.1 L1076.9 577.4 L1077.4 581.7 L1077.9 571.8 L1078.4 574.4 L1078.9 574.1 L1079.5 573.3 L1080 573.8 L1080.4 575.2 L1080.9 570.5 L1081.4 573.2 L1081.9 568.1 L1082.4 566.1 L1082.9 564.6 L1083.4 569.8 L1083.8 569.7 L1084.3 562.2 L1084.8 562.4 L1085.2 562.2 L1085.7 566.5 L1086.2 561 L1086.6 561.5 L1087.1 559.8 L1087.5 559.4 L1088 560.9 L1088.4 559.9 L1088.9 558 L1089.3 555.6 L1089.8 556.5 L1090.2 553 L1090.6 551.8 L1091.1 553.1 L1091.5 553.5 L1091.9 549.7 L1092.4 552.4 L1092.8 554.5 L1093.2 553.4 L1093.6 551 L1094 548.7 L1094.5 549 L1094.9 546.5 L1095.3 545.9 L1095.7 545.4 L1096.1 546.2 L1096.5 546 L1096.9 546.7 L1097.3 546.9 L1097.7 546 L1098.1 544.2 L1098.5 540.2 L1098.9 540.7 L1099.3 545 L1099.7 544.6 L1100 541.6 L1100.4 539.3 L1100.8 538.8 L1101.2 538.5 L1101.6 539.9 L1101.9 536.1 L1102.3 533.3 L1102.7 533 L1103.1 534.6 L1103.4 537.4 L1103.8 536.9 L1104.2 535.4 L1104.5 535.9 L1104.9 533 L1105.3 532.8 L1105.6 534.2 L1106 531.7 L1106.3 529.9 L1106.7 530.8 L1107 531.2 L1107.4 528.2 L1107.7 527.2 L1108.1 531.1 L1108.4 532 L1108.8 530.6 L1109.1 529.3 L1109.5 529.8 L1109.8 528.3 L1110.1 527 L1110.5 526.7 L1110.8 527 L1111.1 525.6 L1111.5 524.5 L1111.8 524.4 L1112.1 523.9 L1112.5 523.9 L1112.8 524.5 L1113.1 523.4 L1113.5 522.8 L1113.8 523.4 L1114.1 524.1 L1114.4 523.1 L1114.7 521.8 L1115.1 520.7 L1115.4 520.9 L1115.7 521.4 L1116 521.2 L1116.3 520.7 L1116.6 518.7 L1116.9 517.9 L1117.2 517.6 L1117.6 518.4 L1117.9 519.4 L1118.2 518.9 L1118.5 516.9 L1118.8 515.9 L1119.1 517.1 L1119.4 517.6 L1119.7 517 L1120 516.6 L1120.3 516.9 L1120.6 516.2 L1120.9 514.4 L1121.2 513.3 L1121.5 513.5 L1121.8 514.1 L1122 514.4 L1122.3 513.5 L1122.6 513.2 L1122.9 513.4 L1123.2 512.7 L1123.5 511.9 L1123.8 511.8 L1124.1 511.7 L1124.3 511.5 L1124.6 511.4 L1124.9 511.6 L1125.2 511.5 L1125.5 511.1 L1125.7 511.3 L1126 511.5 L1126.3 511 L1126.6 510 L1126.8 509.1 L1127.1 508.8 L1127.4 508.8 L1127.6 509.4 L1127.9 510.1 L1128.2 509.7 L1128.5 508.4 L1128.7 507.7 L1129 507.7 L1129.3 508.1 L1129.5 508.7 L1129.8 509.2 L1130 509.5 L1130.3 508.8 L1130.6 507.4 L1130.8 506.6 L1131.1 506.9 L1131.3 507.3 L1131.6 507.2 L1131.9 506.5 L1132.1 506.1 L1132.4 506.7 L1132.6 507.6 L1132.9 507.5 L1133.1 506.7 L1133.4 506.3 L1133.6 506.6 L1133.9 506.7 L1134.1 506.2 L1134.4 505.5 L1134.6 505.2 L1134.9 505 L1135.1 504.9 L1135.4 504.6 L1135.6 504.1 L1135.9 503.8 L1136.1 503.9 L1136.3 504.1 L1136.6 503.6 L1136.8 503 L1137.1 503 L1137.3 503.1 L1137.5 502.9 L1137.8 502.7 L1138 502.9 L1138.3 503.4 L1138.5 503.6"/>
<path class="cv" stroke-width="1.85" d="M737.3 41.3 L768.7 200.9 L791.6 246.5 L809.2 190.8 L823.4 220.1 L836.6 212 L847.7 196.8 L862.9 126.3 L871 120.7 L877.1 120.9 L883.2 125.9 L889.8 119.2 L894.7 149.6 L909.5 96.4 L913.5 129.4 L918.6 115.2 L924.7 110.1 L928.3 147.2 L932.8 117.2 L935.8 121.3 L937.8 135.4 L940.9 137.9 L946 89.9 L949.3 96.9 L954.3 57.1 L958.8 90.6 L963.2 81.1 L967.6 127.2 L974.6 94.3 L977.7 79.2 L982.1 95.6 L985.9 84.2 L988.5 95.6 L991 80.4 L994 99 L996.7 80.4 L998.6 97 L999.8 76 L1005 93 L1009.3 66.5 L1010.6 90.5 L1012.1 63.4 L1014.4 104.5 L1016.3 75.4 L1019.4 93 L1020.1 86.8 L1021.2 79.1 L1022.2 80.1 L1023.2 84.4 L1024.3 89.6 L1025.3 77 L1026.3 88.6 L1027.2 93.3 L1028.2 77.5 L1029.2 85.3 L1030.1 81.6 L1031.1 79.1 L1032 80.6 L1032.9 80.6 L1033.8 77.6 L1034.7 84.6 L1035.6 88.3 L1036.5 85.9 L1037.3 72.6 L1038.2 84.6 L1039 91.9 L1039.9 77.4 L1040.7 86.7 L1041.5 71.3 L1042.3 88.2 L1043.1 85 L1043.9 71.2 L1044.7 75.2 L1045.5 79.9 L1046.2 87.2 L1047 85 L1047.8 88.3 L1048.5 85.7 L1049.2 84.7 L1050 85.6 L1050.7 88.8 L1051.4 81.3 L1052.1 87.7 L1052.8 88 L1053.5 79 L1054.2 85.7 L1054.9 88.2 L1055.6 87.5 L1056.3 87.4 L1057 91.4 L1057.6 85.3 L1058.3 81.8 L1058.9 87.9 L1059.6 89.7 L1060.2 87.3 L1060.9 89.8 L1061.5 89.4 L1062.1 87 L1062.8 93.9 L1063.4 87.2 L1064 87.5 L1064.6 92 L1065.2 87.4 L1065.8 90 L1066.4 92.3 L1067 89.3 L1067.6 91.2 L1068.1 93.5 L1068.7 86.3 L1069.3 97 L1069.9 92.9 L1070.4 91.7 L1071 94.9 L1071.5 91.2 L1072.1 95 L1072.6 90 L1073.2 90.7 L1073.7 94.7 L1074.3 96.1 L1074.8 94.7 L1075.3 92.7 L1075.9 101.6 L1076.4 93.3 L1076.9 92.1 L1077.4 99.6 L1077.9 101.3 L1078.4 91.6 L1078.9 98.4 L1079.5 98.4 L1080 99.5 L1080.4 103.1 L1080.9 102.7 L1081.4 98.3 L1081.9 101.2 L1082.4 104 L1082.9 106 L1083.4 103.5 L1083.8 100.2 L1084.3 103 L1084.8 104.8 L1085.2 104.1 L1085.7 103 L1086.2 104.4 L1086.6 107.6 L1087.1 107.3 L1087.5 110.1 L1088 110.8 L1088.4 111.1 L1088.9 107.7 L1089.3 105.7 L1089.8 108.5 L1090.2 108.4 L1090.6 108.7 L1091.1 109 L1091.5 112 L1091.9 115.1 L1092.4 113.5 L1092.8 112.8 L1093.2 115.1 L1093.6 112.2 L1094 114.4 L1094.5 114.5 L1094.9 112.3 L1095.3 113.1 L1095.7 114.2 L1096.1 115.7 L1096.5 114.4 L1096.9 113.1 L1097.3 115.1 L1097.7 117.7 L1098.1 118 L1098.5 117.1 L1098.9 115.4 L1099.3 118.6 L1099.7 122.5 L1100 122.1 L1100.4 120.2 L1100.8 119.7 L1101.2 119.4 L1101.6 119.2 L1101.9 118.5 L1102.3 119.5 L1102.7 122.9 L1103.1 124.2 L1103.4 122.5 L1103.8 122.4 L1104.2 123.5 L1104.5 124 L1104.9 123.5 L1105.3 123.6 L1105.6 124.2 L1106 125.7 L1106.3 127 L1106.7 127.7 L1107 127.6 L1107.4 127.7 L1107.7 128.1 L1108.1 126.2 L1108.4 125 L1108.8 126.8 L1109.1 127.6 L1109.5 127.1 L1109.8 128.8 L1110.1 129.3 L1110.5 129.5 L1110.8 129.3 L1111.1 128.9 L1111.5 129 L1111.8 128.5 L1112.1 129.6 L1112.5 131.3 L1112.8 131.1 L1113.1 130.4 L1113.5 129.8 L1113.8 130.2 L1114.1 131.5 L1114.4 132.6 L1114.7 133.2 L1115.1 133.5 L1115.4 133.6 L1115.7 133.8 L1116 133.1 L1116.3 133.3 L1116.6 134.4 L1116.9 133.9 L1117.2 133.7 L1117.6 134.3 L1117.9 135.2 L1118.2 135.9 L1118.5 136.3 L1118.8 136.7 L1119.1 137.6 L1119.4 137.7 L1119.7 136.7 L1120 137.4 L1120.3 138.4 L1120.6 138.4 L1120.9 139.1 L1121.2 140.3 L1121.5 140.2 L1121.8 140.1 L1122 140.7 L1122.3 141.3 L1122.6 141.5 L1122.9 141.3 L1123.2 141.2 L1123.5 141.8 L1123.8 142.7 L1124.1 143.8 L1124.3 144.2 L1124.6 143.6 L1124.9 142.8 L1125.2 142.5 L1125.5 143.3 L1125.7 144.5 L1126 145.1 L1126.3 144.7 L1126.6 143.8 L1126.8 143.9 L1127.1 145 L1127.4 146 L1127.6 146.2 L1127.9 146.1 L1128.2 146.5 L1128.5 146.5 L1128.7 146.3 L1129 147 L1129.3 147.5 L1129.5 147.6 L1129.8 147.7 L1130 147.8 L1130.3 148.3 L1130.6 148.9 L1130.8 149.5 L1131.1 149.7 L1131.3 149.4 L1131.6 149.4 L1131.9 149.6 L1132.1 149.9 L1132.4 150.4 L1132.6 150.5 L1132.9 150.2 L1133.1 150.5 L1133.4 150.8 L1133.6 150.9 L1133.9 150.9 L1134.1 151.1 L1134.4 151.4 L1134.6 151.7 L1134.9 152.2 L1135.1 152.7 L1135.4 153.2 L1135.6 153.6 L1135.9 153.5 L1136.1 153.2 L1136.3 152.8 L1136.6 152.6 L1136.8 152.7 L1137.1 153.1 L1137.3 153.6 L1137.5 154 L1137.8 154.5 L1138 155.2 L1138.3 155.6 L1138.5 155.9 L1138.7 156.1 L1139 156.1 L1139.2 156.1"/>
<path class="cv" stroke-width="1.85" d="M737.3 427.8 L768.7 440.4 L791.6 452.1 L809.2 439.8 L823.4 435.3 L835.6 424.8 L845.7 409.6 L854.8 412.6 L862.9 395.2 L876.1 399.5 L889.2 392.8 L899.4 392.8 L909.5 368.5 L913.5 377.6 L917.6 354.3 L921.6 362.8 L927.7 352.3 L933.8 363.4 L938.9 354.3 L943.9 351.3 L946.6 338.1 L949 356.3 L950.6 350.2 L953.1 353 L955.6 357.8 L958 343.2 L960.4 346.8 L962.6 341.5 L964.8 342.9 L967 357.7 L969.1 343.6 L971.1 353.9 L973.1 342.6 L975 338 L976.9 350.7 L978.7 346.9 L980.5 354 L982.3 343.1 L984 356.3 L985.7 346.8 L987.3 347.7 L988.9 354.5 L990.5 348.8 L992.1 346.2 L993.6 354.5 L995.1 342.4 L996.5 361.6 L998 361 L999.4 353.2 L1000.7 351.4 L1002.1 368.5 L1003.4 350.3 L1004.8 377.2 L1006.1 363.8 L1007.3 361.9 L1008.6 373.3 L1009.8 365.9 L1011 369.6 L1012.2 361.3 L1013.4 371.9 L1014.5 369.9 L1015.7 365.3 L1016.8 366.2 L1017.9 383.4 L1019 384.9 L1020.1 372.9 L1021.2 372.9 L1022.2 384.2 L1023.2 373.3 L1024.3 370.1 L1025.3 379.7 L1026.3 377.4 L1027.2 380.3 L1028.2 368.7 L1029.2 397.4 L1030.1 371.7 L1031.1 377.2 L1032 378.8 L1032.9 386.5 L1033.8 387.3 L1034.7 387.7 L1035.6 388.3 L1036.5 389.1 L1037.3 388.7 L1038.2 385.1 L1039 396 L1039.9 381.5 L1040.7 404.3 L1041.5 383.5 L1042.3 391.4 L1043.1 391.5 L1043.9 398.4 L1044.7 383.5 L1045.5 401.3 L1046.2 401.8 L1047 401.7 L1047.8 395.8 L1048.5 397.3 L1049.2 412.4 L1050 384.4 L1050.7 401 L1051.4 393.9 L1052.1 397.1 L1052.8 408.8 L1053.5 399.2 L1054.2 407.6 L1054.9 412.1 L1055.6 402.4 L1056.3 399.5 L1057 411.8 L1057.6 409.8 L1058.3 414.6 L1058.9 415.6 L1059.6 403.4 L1060.2 404.7 L1060.9 406.2 L1061.5 411.6 L1062.1 414 L1062.8 411.6 L1063.4 414 L1064 408.7 L1064.6 420 L1065.2 412.7 L1065.8 408.2 L1066.4 409.5 L1067 413.5 L1067.6 418.9 L1068.1 414.5 L1068.7 417.6 L1069.3 406.5 L1069.9 417.1 L1070.4 416.1 L1071 418.5 L1071.5 418.1 L1072.1 418.8 L1072.6 419.1 L1073.2 419.3 L1073.7 418 L1074.3 419.9 L1074.8 424.8 L1075.3 425.7 L1075.9 412.7 L1076.4 427.8 L1076.9 424 L1077.4 425.1 L1077.9 420.2 L1078.4 422.4 L1078.9 423.6 L1079.5 425.2 L1080 426.9 L1080.4 425.7 L1080.9 422.6 L1081.4 428.7 L1081.9 428.8 L1082.4 421.3 L1082.9 427.7 L1083.4 428.4 L1083.8 427 L1084.3 429.7 L1084.8 423.5 L1085.2 431.1 L1085.7 430.8 L1086.2 425.5 L1086.6 429.7 L1087.1 431.9 L1087.5 431.3 L1088 428.6 L1088.4 428.3 L1088.9 431.2 L1089.3 434.9 L1089.8 434.7 L1090.2 432.9 L1090.6 431.1 L1091.1 430.2 L1091.5 432.9 L1091.9 429.6 L1092.4 432.4 L1092.8 434.2 L1093.2 435.2 L1093.6 435.6 L1094 433.9 L1094.5 430.1 L1094.9 429.6 L1095.3 432.5 L1095.7 433.1 L1096.1 433 L1096.5 435 L1096.9 432.6 L1097.3 430.3 L1097.7 436.7 L1098.1 440 L1098.5 436.4 L1098.9 436.2 L1099.3 436.7 L1099.7 437.5 L1100 437.1 L1100.4 438.6 L1100.8 438.4 L1101.2 435.7 L1101.6 436 L1101.9 437.2 L1102.3 439.1 L1102.7 437.4 L1103.1 436.2 L1103.4 437.2 L1103.8 438.9 L1104.2 436.8 L1104.5 436.2 L1104.9 438.6 L1105.3 437.7 L1105.6 437.7 L1106 438.2 L1106.3 438 L1106.7 438.1 L1107 438 L1107.4 439.5 L1107.7 441.9 L1108.1 442.7 L1108.4 442.4 L1108.8 441.4 L1109.1 440.8 L1109.5 441.2 L1109.8 439.8 L1110.1 438.9 L1110.5 440.3 L1110.8 441.3 L1111.1 442.1 L1111.5 443.5 L1111.8 445.1 L1112.1 444.2 L1112.5 443 L1112.8 442.3 L1113.1 441.6 L1113.5 442.2 L1113.8 442.7 L1114.1 443 L1114.4 444.5 L1114.7 445.1 L1115.1 445.1 L1115.4 444.3 L1115.7 443.6 L1116 444.2 L1116.3 444.3 L1116.6 443.3 L1116.9 443.1 L1117.2 444.9 L1117.6 446.1 L1117.9 446 L1118.2 444.9 L1118.5 444.3 L1118.8 444.3 L1119.1 444.7 L1119.4 445.8 L1119.7 445.5 L1120 445.7 L1120.3 447 L1120.6 447.2 L1120.9 446.8 L1121.2 447.1 L1121.5 447.3 L1121.8 447 L1122 446.9 L1122.3 446.6 L1122.6 446.5 L1122.9 446.9 L1123.2 446.5 L1123.5 446.1 L1123.8 446.4 L1124.1 447 L1124.3 447.2 L1124.6 447.1 L1124.9 447.3 L1125.2 447.4 L1125.5 447.3 L1125.7 447.2 L1126 447.1 L1126.3 447.1 L1126.6 447.7 L1126.8 448.7 L1127.1 448.6 L1127.4 448 L1127.6 448.6 L1127.9 449.5 L1128.2 449.7 L1128.5 449.4 L1128.7 449.7 L1129 450.4 L1129.3 450.4 L1129.5 449.8 L1129.8 449.5 L1130 448.7 L1130.3 447.8 L1130.6 447.5 L1130.8 448.1 L1131.1 448.5 L1131.3 448.5 L1131.6 448.8 L1131.9 449.5 L1132.1 450.2 L1132.4 450.6 L1132.6 450.4 L1132.9 450.2 L1133.1 450.8 L1133.4 451.4 L1133.6 451.4 L1133.9 451.1 L1134.1 450.9 L1134.4 451.2 L1134.6 451.6 L1134.9 451.1 L1135.1 450.2 L1135.4 449.5 L1135.6 449.2"/>
<path class="cv" stroke-width="1.85" d="M737.3 292.9 L768.7 286.1 L791.6 287.9 L809.2 284.8 L823.4 291.5 L836.6 292.9 L845.7 312.4 L860.9 307.1 L871 318.3 L877.1 310.4 L884.2 307.7 L889.8 315.8 L897.3 311.4 L905.4 317.8 L909.5 317.8 L913.5 301.6 L917.6 320.9 L922.7 308.7 L928.3 320.5 L932.8 299.6 L936.8 302.7 L940.9 296.6 L945 300.6 L950 286.5 L950.6 288.2 L953.1 286.2 L955.6 282 L958 284.4 L960.4 281.8 L962.6 276.6 L964.8 282.5 L967 284.9 L969.1 263.9 L971.1 278.3 L973.1 251.2 L975 280 L976.9 256.6 L978.7 247.7 L980.5 252.6 L982.3 250.7 L984 252.6 L985.7 247.3 L987.3 248.3 L988.9 236.8 L990.5 241.3 L992.1 231.4 L993.6 235.5 L995.1 236.3 L996.5 231.7 L998 228.4 L999.4 230.6 L1000.7 234.1 L1002.1 227.3 L1003.4 227.2 L1004.8 225.4 L1006.1 216.4 L1007.3 217.3 L1008.6 224.1 L1009.8 213.1 L1011 222.2 L1012.2 211 L1013.4 210 L1014.5 211.3 L1015.7 216.4 L1016.8 201.3 L1017.9 218.9 L1019 205.2 L1020.1 203.3 L1021.2 206.4 L1022.2 205.7 L1023.2 205.3 L1024.3 198.8 L1025.3 195.3 L1026.3 202.1 L1027.2 204 L1028.2 199.1 L1029.2 215.3 L1030.1 198 L1031.1 188.2 L1032 210.6 L1032.9 195.4 L1033.8 194.2 L1034.7 186.7 L1035.6 205.4 L1036.5 200.1 L1037.3 200.3 L1038.2 188 L1039 205.3 L1039.9 192.4 L1040.7 203.2 L1041.5 201 L1042.3 197.4 L1043.1 200 L1043.9 194.5 L1044.7 195.8 L1045.5 197.9 L1046.2 195.3 L1047 196.4 L1047.8 190.6 L1048.5 203.8 L1049.2 204.8 L1050 191.1 L1050.7 198 L1051.4 196.8 L1052.1 190.8 L1052.8 199.7 L1053.5 203.2 L1054.2 196.2 L1054.9 195.4 L1055.6 212.5 L1056.3 198.4 L1057 205.2 L1057.6 195.3 L1058.3 202.3 L1058.9 208.5 L1059.6 199.1 L1060.2 203.6 L1060.9 213.6 L1061.5 195.2 L1062.1 205.3 L1062.8 211.5 L1063.4 204.9 L1064 210 L1064.6 210.1 L1065.2 206.3 L1065.8 204.7 L1066.4 208.2 L1067 207.7 L1067.6 213.9 L1068.1 205.5 L1068.7 210.7 L1069.3 207.8 L1069.9 207.9 L1070.4 212.7 L1071 213.1 L1071.5 207.4 L1072.1 220 L1072.6 208.4 L1073.2 210.6 L1073.7 211.6 L1074.3 210.1 L1074.8 210.5 L1075.3 217.2 L1075.9 210.6 L1076.4 217.2 L1076.9 213.2 L1077.4 214.4 L1077.9 215 L1078.4 220.5 L1078.9 214.6 L1079.5 214.4 L1080 218.6 L1080.4 219.2 L1080.9 213.8 L1081.4 220 L1081.9 222 L1082.4 213.3 L1082.9 219.4 L1083.4 219.1 L1083.8 223.6 L1084.3 223.5 L1084.8 220 L1085.2 224.5 L1085.7 225.2 L1086.2 226.6 L1086.6 221.6 L1087.1 225.9 L1087.5 228.3 L1088 223.6 L1088.4 224.4 L1088.9 224.3 L1089.3 227.8 L1089.8 229.9 L1090.2 229.1 L1090.6 231.5 L1091.1 228.9 L1091.5 224.5 L1091.9 226.7 L1092.4 229.1 L1092.8 228.9 L1093.2 229.7 L1093.6 233.3 L1094 233 L1094.5 232.9 L1094.9 234.2 L1095.3 231.3 L1095.7 231.2 L1096.1 234.9 L1096.5 234.3 L1096.9 234.9 L1097.3 236.4 L1097.7 237.6 L1098.1 238.2 L1098.5 232.6 L1098.9 233.8 L1099.3 236.8 L1099.7 237.9 L1100 238 L1100.4 238 L1100.8 238.5 L1101.2 238.4 L1101.6 237.7 L1101.9 238.3 L1102.3 239.7 L1102.7 241.6 L1103.1 241.9 L1103.4 240 L1103.8 240.8 L1104.2 242 L1104.5 241.8 L1104.9 243.3 L1105.3 243.8 L1105.6 242.8 L1106 242.2 L1106.3 244.3 L1106.7 245.5 L1107 244.1 L1107.4 244.3 L1107.7 245.9 L1108.1 247.4 L1108.4 246.3 L1108.8 246.6 L1109.1 248.5 L1109.5 247.1 L1109.8 244.8 L1110.1 246 L1110.5 247.6 L1110.8 248.5 L1111.1 249.2 L1111.5 250.1 L1111.8 249.5 L1112.1 249.3 L1112.5 250.5 L1112.8 250 L1113.1 249.1 L1113.5 249.4 L1113.8 250.4 L1114.1 252 L1114.4 252.3 L1114.7 251.3 L1115.1 251.5 L1115.4 251.8 L1115.7 252.1 L1116 252.9 L1116.3 253.3 L1116.6 253.3 L1116.9 253 L1117.2 252.8 L1117.6 254.6 L1117.9 256.5 L1118.2 256 L1118.5 254.3 L1118.8 253.7 L1119.1 254.3 L1119.4 255.1 L1119.7 255.7 L1120 256 L1120.3 256.2 L1120.6 256.2 L1120.9 255.8 L1121.2 255.8 L1121.5 257.1 L1121.8 258.4 L1122 258.4 L1122.3 257.9 L1122.6 258.2 L1122.9 258 L1123.2 257.3 L1123.5 257.3 L1123.8 258.2 L1124.1 258.9 L1124.3 258.6 L1124.6 258.7 L1124.9 258.6 L1125.2 257.9 L1125.5 257.7 L1125.7 258.1 L1126 259.2 L1126.3 260.1 L1126.6 259.9 L1126.8 259.2 L1127.1 259.6 L1127.4 260.5 L1127.6 261.1 L1127.9 261.1 L1128.2 260.7 L1128.5 260.2 L1128.7 260 L1129 260.1 L1129.3 260.5 L1129.5 260.8 L1129.8 261 L1130 260.8 L1130.3 260.5 L1130.6 260.7 L1130.8 260.9 L1131.1 261 L1131.3 261.4 L1131.6 262.2 L1131.9 263 L1132.1 263 L1132.4 262.5 L1132.6 262.3 L1132.9 262.5 L1133.1 262.6 L1133.4 262.6 L1133.6 262.6 L1133.9 262.6 L1134.1 262.9 L1134.4 263.3 L1134.6 263.5 L1134.9 264 L1135.1 264.4 L1135.4 264.3 L1135.6 263.9 L1135.9 264.1 L1136.1 264.4 L1136.3 264.7 L1136.6 264.6 L1136.8 264.5 L1137.1 264.4 L1137.3 264.3 L1137.5 264.5 L1137.8 264.9 L1138 265.2 L1138.3 265.2 L1138.5 265.3 L1138.7 265.7"/>
</g>
<rect class="ax" x="716.4" y="15.6" width="454.1" height="636.7"/>
<path class="ax" d="M716.4 79.3h6.5M1170.5 79.3h-6.5M716.4 142.9h6.5M1170.5 142.9h-6.5M716.4 206.6h6.5M1170.5 206.6h-6.5M716.4 270.3h6.5M1170.5 270.3h-6.5M716.4 333.9h6.5M1170.5 333.9h-6.5M716.4 397.6h6.5M1170.5 397.6h-6.5M716.4 461.3h6.5M1170.5 461.3h-6.5M716.4 525h6.5M1170.5 525h-6.5M716.4 588.6h6.5M1170.5 588.6h-6.5M738.9 652.3v-3.4M738.9 15.6v3.4M756.3 652.3v-3.4M756.3 15.6v3.4M770.6 652.3v-3.4M770.6 15.6v3.4M782.6 652.3v-3.4M782.6 15.6v3.4M793.1 652.3v-3.4M793.1 15.6v3.4M802.3 652.3v-3.4M802.3 15.6v3.4M810.5 652.3v-6.5M810.5 15.6v6.5M864.7 652.3v-3.4M864.7 15.6v3.4M896.4 652.3v-3.4M896.4 15.6v3.4M918.9 652.3v-3.4M918.9 15.6v3.4M936.3 652.3v-3.4M936.3 15.6v3.4M950.6 652.3v-3.4M950.6 15.6v3.4M962.6 652.3v-3.4M962.6 15.6v3.4M973.1 652.3v-3.4M973.1 15.6v3.4M982.3 652.3v-3.4M982.3 15.6v3.4M990.5 652.3v-6.5M990.5 15.6v6.5M1044.7 652.3v-3.4M1044.7 15.6v3.4M1076.4 652.3v-3.4M1076.4 15.6v3.4M1098.9 652.3v-3.4M1098.9 15.6v3.4M1116.3 652.3v-3.4M1116.3 15.6v3.4M1130.6 652.3v-3.4M1130.6 15.6v3.4M1142.6 652.3v-3.4M1142.6 15.6v3.4M1153.1 652.3v-3.4M1153.1 15.6v3.4M1162.3 652.3v-3.4M1162.3 15.6v3.4"/>
<text class="tk" text-anchor="end" x="706.2" y="22.5">0.7</text>
<text class="tk" text-anchor="end" x="706.2" y="86.2">0.6</text>
<text class="tk" text-anchor="end" x="706.2" y="149.8">0.5</text>
<text class="tk" text-anchor="end" x="706.2" y="213.5">0.4</text>
<text class="tk" text-anchor="end" x="706.2" y="277.2">0.3</text>
<text class="tk" text-anchor="end" x="706.2" y="340.8">0.2</text>
<text class="tk" text-anchor="end" x="706.2" y="404.5">0.1</text>
<text class="tk" text-anchor="end" x="706.2" y="468.2">0</text>
<text class="tk" text-anchor="end" x="706.2" y="531.9"><tspan textLength="20.7" lengthAdjust="spacingAndGlyphs">−</tspan><tspan dx="-1.4">0.1</tspan></text>
<text class="tk" text-anchor="end" x="706.2" y="595.5"><tspan textLength="20.7" lengthAdjust="spacingAndGlyphs">−</tspan><tspan dx="-1.4">0.2</tspan></text>
<text class="tk" text-anchor="end" x="706.2" y="659.2"><tspan textLength="20.7" lengthAdjust="spacingAndGlyphs">−</tspan><tspan dx="-1.4">0.3</tspan></text>
<text class="tk" x="787.7" y="683.5">10<tspan class="sup" dx="0.3" dy="-9.5" textLength="12.3" lengthAdjust="spacingAndGlyphs">−</tspan><tspan class="sup" dx="-0.1">1</tspan></text>
<text class="tk" x="973.8" y="683.5">10<tspan class="sup" dx="0.2" dy="-9.5">0</tspan></text>
<text class="tk" x="1153.8" y="683.5">10<tspan class="sup" dx="0.2" dy="-9.5">1</tspan></text>
<text class="lab" style="font-size:29.5px" x="931" y="722.7">kz</text>
<text class="lab" x="609.5" y="180.5">C<tspan class="sub" dx="-0.5" dy="4.2">13</tspan></text>
<text class="lab" x="609.5" y="307.9">C<tspan class="sub" dx="-0.5" dy="4.2">33</tspan></text>
<text class="lab" x="609.5" y="434.7">C<tspan class="sub" dx="-0.5" dy="4.2">22</tspan></text>
<text class="lab" x="609.5" y="561.6">C<tspan class="sub" dx="-0.5" dy="4.2">11</tspan></text>
<text x="611" y="24.7" style="font-size:29.5px">(<tspan font-style="italic">b</tspan><tspan dx="0.8">)</tspan></text>
</svg></body></html>
